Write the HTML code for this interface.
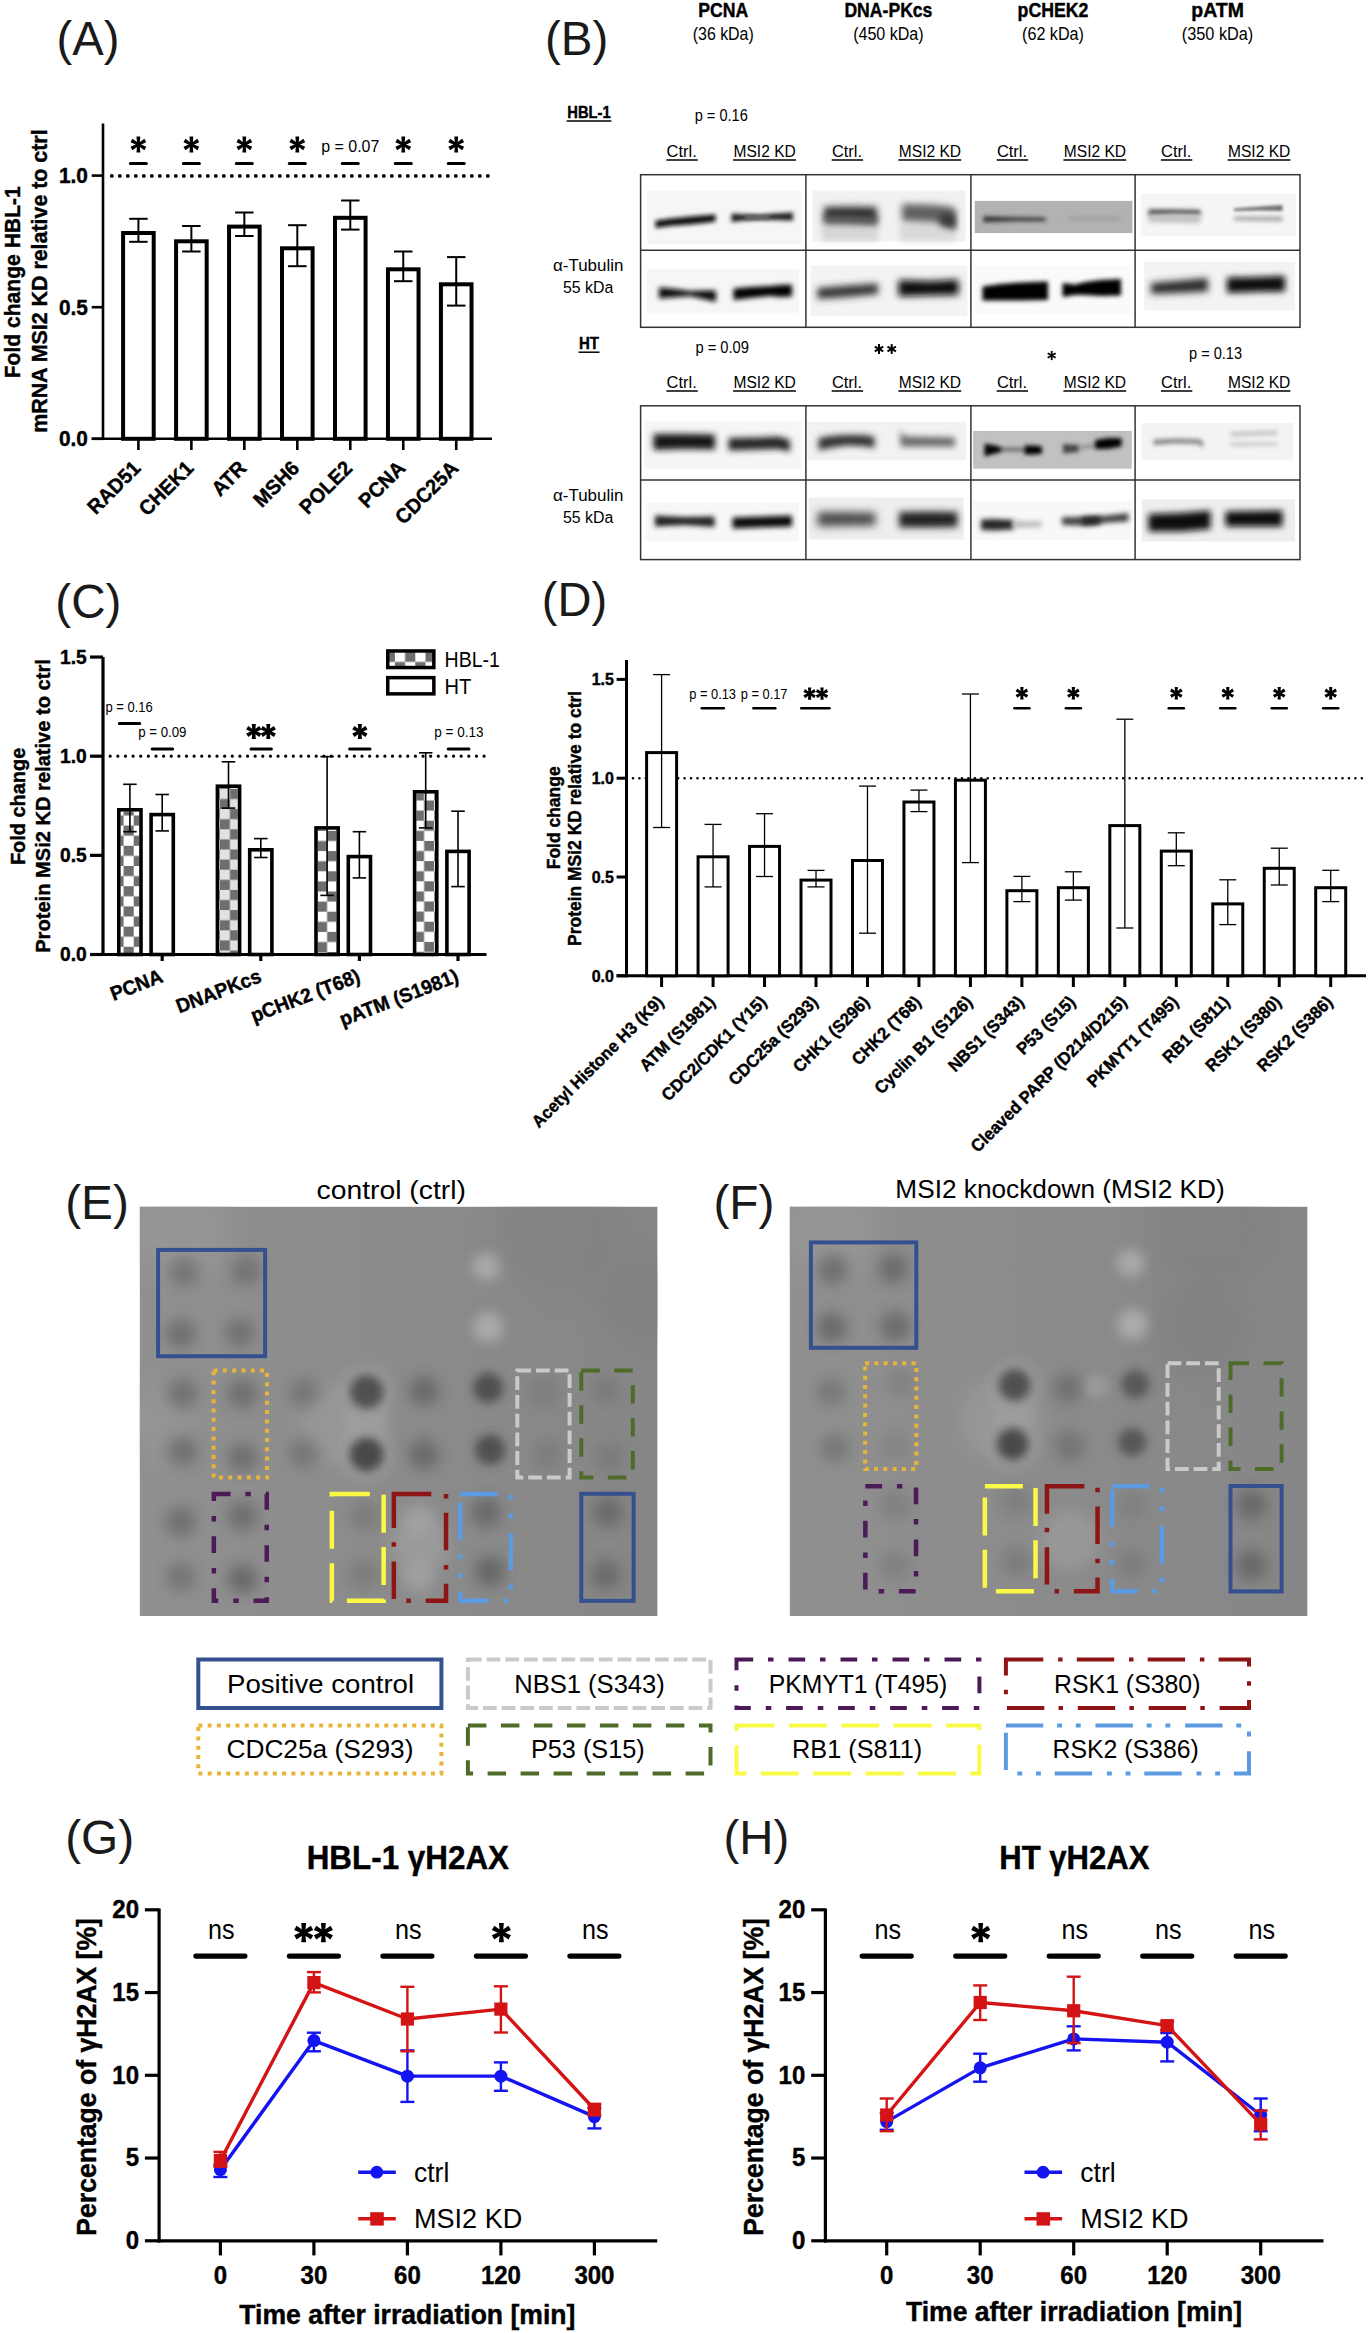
<!DOCTYPE html>
<html><head><meta charset="utf-8"><style>
html,body{margin:0;padding:0;background:#fff;overflow:hidden;}
svg{display:block;font-family:"Liberation Sans", sans-serif;}
</style></head><body>
<svg width="1371" height="2333" viewBox="0 0 1371 2333">
<defs>
<filter id="bl10" x="-30%" y="-200%" width="160%" height="500%"><feGaussianBlur stdDeviation="1.0"/></filter>
<filter id="bl12" x="-30%" y="-200%" width="160%" height="500%"><feGaussianBlur stdDeviation="1.2"/></filter>
<filter id="bl14" x="-30%" y="-200%" width="160%" height="500%"><feGaussianBlur stdDeviation="1.4"/></filter>
<filter id="bl16" x="-30%" y="-200%" width="160%" height="500%"><feGaussianBlur stdDeviation="1.6"/></filter>
<filter id="bl18" x="-30%" y="-200%" width="160%" height="500%"><feGaussianBlur stdDeviation="1.8"/></filter>
<filter id="bl20" x="-30%" y="-200%" width="160%" height="500%"><feGaussianBlur stdDeviation="2.0"/></filter>
<filter id="bl22" x="-30%" y="-200%" width="160%" height="500%"><feGaussianBlur stdDeviation="2.2"/></filter>
<filter id="bl24" x="-30%" y="-200%" width="160%" height="500%"><feGaussianBlur stdDeviation="2.4"/></filter>
<filter id="bl26" x="-30%" y="-200%" width="160%" height="500%"><feGaussianBlur stdDeviation="2.6"/></filter>
<filter id="bl28" x="-30%" y="-200%" width="160%" height="500%"><feGaussianBlur stdDeviation="2.8"/></filter>
<filter id="bl30" x="-30%" y="-200%" width="160%" height="500%"><feGaussianBlur stdDeviation="3.0"/></filter>
<filter id="bl32" x="-30%" y="-200%" width="160%" height="500%"><feGaussianBlur stdDeviation="3.2"/></filter>
<filter id="bl34" x="-30%" y="-200%" width="160%" height="500%"><feGaussianBlur stdDeviation="3.4"/></filter>
<filter id="bl36" x="-30%" y="-200%" width="160%" height="500%"><feGaussianBlur stdDeviation="3.6"/></filter>
<filter id="bl38" x="-30%" y="-200%" width="160%" height="500%"><feGaussianBlur stdDeviation="3.8"/></filter>
<filter id="bl40" x="-30%" y="-200%" width="160%" height="500%"><feGaussianBlur stdDeviation="4.0"/></filter>
<filter id="bl42" x="-30%" y="-200%" width="160%" height="500%"><feGaussianBlur stdDeviation="4.2"/></filter>
<filter id="bl44" x="-30%" y="-200%" width="160%" height="500%"><feGaussianBlur stdDeviation="4.4"/></filter>
<filter id="bl46" x="-30%" y="-200%" width="160%" height="500%"><feGaussianBlur stdDeviation="4.6"/></filter>
<filter id="bl48" x="-30%" y="-200%" width="160%" height="500%"><feGaussianBlur stdDeviation="4.8"/></filter>
<filter id="bl50" x="-30%" y="-200%" width="160%" height="500%"><feGaussianBlur stdDeviation="5.0"/></filter>
<filter id="db45" x="-100%" y="-100%" width="300%" height="300%"><feGaussianBlur stdDeviation="4.5"/></filter>
<filter id="db7" x="-100%" y="-100%" width="300%" height="300%"><feGaussianBlur stdDeviation="7"/></filter>
<filter id="db14" x="-100%" y="-100%" width="300%" height="300%"><feGaussianBlur stdDeviation="14"/></filter>
<filter id="db4" x="-100%" y="-100%" width="300%" height="300%"><feGaussianBlur stdDeviation="4"/></filter>
<filter id="db55" x="-100%" y="-100%" width="300%" height="300%"><feGaussianBlur stdDeviation="5.5"/></filter>
<filter id="db5" x="-100%" y="-100%" width="300%" height="300%"><feGaussianBlur stdDeviation="5"/></filter>
<filter id="db6" x="-100%" y="-100%" width="300%" height="300%"><feGaussianBlur stdDeviation="6"/></filter>
<filter id="db8" x="-100%" y="-100%" width="300%" height="300%"><feGaussianBlur stdDeviation="8"/></filter>
<filter id="db10" x="-100%" y="-100%" width="300%" height="300%"><feGaussianBlur stdDeviation="10"/></filter>
<filter id="db12" x="-100%" y="-100%" width="300%" height="300%"><feGaussianBlur stdDeviation="12"/></filter>
</defs>
<rect width="1371" height="2333" fill="#fff"/>
<text x="0.00" y="0.00" font-size="46" text-anchor="start" fill="#1a1a1a" textLength="62.90" lengthAdjust="spacingAndGlyphs" transform="translate(56.50,54.90) scale(1,1.04)">(A)</text>
<line x1="103.00" y1="123.50" x2="103.00" y2="440.10" stroke="#000" stroke-width="2.6" stroke-linecap="butt"/>
<line x1="91.70" y1="438.80" x2="492.00" y2="438.80" stroke="#000" stroke-width="2.6" stroke-linecap="butt"/>
<line x1="91.70" y1="175.60" x2="103.00" y2="175.60" stroke="#000" stroke-width="2.6" stroke-linecap="butt"/>
<text x="0.00" y="0.00" font-size="20.8" font-weight="bold" stroke="#000" stroke-width="0.4" text-anchor="end" fill="#000" transform="translate(87.80,183.10) scale(1,1.04)">1.0</text>
<line x1="91.70" y1="307.20" x2="103.00" y2="307.20" stroke="#000" stroke-width="2.6" stroke-linecap="butt"/>
<text x="0.00" y="0.00" font-size="20.8" font-weight="bold" stroke="#000" stroke-width="0.4" text-anchor="end" fill="#000" transform="translate(87.80,314.70) scale(1,1.04)">0.5</text>
<line x1="91.70" y1="438.80" x2="103.00" y2="438.80" stroke="#000" stroke-width="2.6" stroke-linecap="butt"/>
<text x="0.00" y="0.00" font-size="20.8" font-weight="bold" stroke="#000" stroke-width="0.4" text-anchor="end" fill="#000" transform="translate(87.80,446.30) scale(1,1.04)">0.0</text>
<path d="M111.80 175.90h0M119.80 175.90h0M127.80 175.90h0M135.80 175.90h0M143.80 175.90h0M151.80 175.90h0M159.80 175.90h0M167.80 175.90h0M175.80 175.90h0M183.80 175.90h0M191.80 175.90h0M199.80 175.90h0M207.80 175.90h0M215.80 175.90h0M223.80 175.90h0M231.80 175.90h0M239.80 175.90h0M247.80 175.90h0M255.80 175.90h0M263.80 175.90h0M271.80 175.90h0M279.80 175.90h0M287.80 175.90h0M295.80 175.90h0M303.80 175.90h0M311.80 175.90h0M319.80 175.90h0M327.80 175.90h0M335.80 175.90h0M343.80 175.90h0M351.80 175.90h0M359.80 175.90h0M367.80 175.90h0M375.80 175.90h0M383.80 175.90h0M391.80 175.90h0M399.80 175.90h0M407.80 175.90h0M415.80 175.90h0M423.80 175.90h0M431.80 175.90h0M439.80 175.90h0M447.80 175.90h0M455.80 175.90h0M463.80 175.90h0M471.80 175.90h0M479.80 175.90h0M487.80 175.90h0" stroke="#000" stroke-width="3.9" stroke-linecap="round"/>
<rect x="123.10" y="233.00" width="30.60" height="205.80" fill="#fff" stroke="#000" stroke-width="4"/>
<line x1="138.40" y1="218.80" x2="138.40" y2="241.80" stroke="#000" stroke-width="2" stroke-linecap="butt"/>
<line x1="129.15" y1="218.80" x2="147.65" y2="218.80" stroke="#000" stroke-width="2" stroke-linecap="butt"/>
<line x1="129.15" y1="241.80" x2="147.65" y2="241.80" stroke="#000" stroke-width="2" stroke-linecap="butt"/>
<line x1="138.40" y1="438.80" x2="138.40" y2="450.00" stroke="#000" stroke-width="2.6" stroke-linecap="butt"/>
<text x="0.00" y="0.00" font-size="19.8" font-weight="bold" stroke="#000" stroke-width="0.4" text-anchor="end" fill="#000" transform="translate(141.70,469.50) rotate(-45) scale(1,1.04)">RAD51</text>
<path d="M139.68 144.50L140.32 136.50L136.48 136.50L137.12 144.50ZM139.04 143.40L132.43 138.84L130.51 142.16L137.76 145.60ZM137.76 143.40L130.51 146.84L132.43 150.16L139.04 145.60ZM137.12 144.50L136.48 152.50L140.32 152.50L139.68 144.50ZM137.76 145.60L144.37 150.16L146.29 146.84L139.04 143.40ZM139.04 145.60L146.29 142.16L144.37 138.84L137.76 143.40Z" fill="#000"/>
<circle cx="138.40" cy="144.50" r="2.25" fill="#000"/>
<line x1="130.40" y1="163.50" x2="146.40" y2="163.50" stroke="#000" stroke-width="3" stroke-linecap="round"/>
<rect x="176.07" y="241.30" width="30.60" height="197.50" fill="#fff" stroke="#000" stroke-width="4"/>
<line x1="191.37" y1="226.00" x2="191.37" y2="251.50" stroke="#000" stroke-width="2" stroke-linecap="butt"/>
<line x1="182.12" y1="226.00" x2="200.62" y2="226.00" stroke="#000" stroke-width="2" stroke-linecap="butt"/>
<line x1="182.12" y1="251.50" x2="200.62" y2="251.50" stroke="#000" stroke-width="2" stroke-linecap="butt"/>
<line x1="191.37" y1="438.80" x2="191.37" y2="450.00" stroke="#000" stroke-width="2.6" stroke-linecap="butt"/>
<text x="0.00" y="0.00" font-size="19.8" font-weight="bold" stroke="#000" stroke-width="0.4" text-anchor="end" fill="#000" transform="translate(194.67,469.50) rotate(-45) scale(1,1.04)">CHEK1</text>
<path d="M192.65 144.50L193.29 136.50L189.45 136.50L190.09 144.50ZM192.01 143.40L185.40 138.84L183.48 142.16L190.73 145.60ZM190.73 143.40L183.48 146.84L185.40 150.16L192.01 145.60ZM190.09 144.50L189.45 152.50L193.29 152.50L192.65 144.50ZM190.73 145.60L197.34 150.16L199.26 146.84L192.01 143.40ZM192.01 145.60L199.26 142.16L197.34 138.84L190.73 143.40Z" fill="#000"/>
<circle cx="191.37" cy="144.50" r="2.25" fill="#000"/>
<line x1="183.37" y1="163.50" x2="199.37" y2="163.50" stroke="#000" stroke-width="3" stroke-linecap="round"/>
<rect x="229.04" y="226.60" width="30.60" height="212.20" fill="#fff" stroke="#000" stroke-width="4"/>
<line x1="244.34" y1="212.50" x2="244.34" y2="236.00" stroke="#000" stroke-width="2" stroke-linecap="butt"/>
<line x1="235.09" y1="212.50" x2="253.59" y2="212.50" stroke="#000" stroke-width="2" stroke-linecap="butt"/>
<line x1="235.09" y1="236.00" x2="253.59" y2="236.00" stroke="#000" stroke-width="2" stroke-linecap="butt"/>
<line x1="244.34" y1="438.80" x2="244.34" y2="450.00" stroke="#000" stroke-width="2.6" stroke-linecap="butt"/>
<text x="0.00" y="0.00" font-size="19.8" font-weight="bold" stroke="#000" stroke-width="0.4" text-anchor="end" fill="#000" transform="translate(247.64,469.50) rotate(-45) scale(1,1.04)">ATR</text>
<path d="M245.62 144.50L246.26 136.50L242.42 136.50L243.06 144.50ZM244.98 143.40L238.37 138.84L236.45 142.16L243.70 145.60ZM243.70 143.40L236.45 146.84L238.37 150.16L244.98 145.60ZM243.06 144.50L242.42 152.50L246.26 152.50L245.62 144.50ZM243.70 145.60L250.31 150.16L252.23 146.84L244.98 143.40ZM244.98 145.60L252.23 142.16L250.31 138.84L243.70 143.40Z" fill="#000"/>
<circle cx="244.34" cy="144.50" r="2.25" fill="#000"/>
<line x1="236.34" y1="163.50" x2="252.34" y2="163.50" stroke="#000" stroke-width="3" stroke-linecap="round"/>
<rect x="282.01" y="248.30" width="30.60" height="190.50" fill="#fff" stroke="#000" stroke-width="4"/>
<line x1="297.31" y1="225.20" x2="297.31" y2="266.20" stroke="#000" stroke-width="2" stroke-linecap="butt"/>
<line x1="288.06" y1="225.20" x2="306.56" y2="225.20" stroke="#000" stroke-width="2" stroke-linecap="butt"/>
<line x1="288.06" y1="266.20" x2="306.56" y2="266.20" stroke="#000" stroke-width="2" stroke-linecap="butt"/>
<line x1="297.31" y1="438.80" x2="297.31" y2="450.00" stroke="#000" stroke-width="2.6" stroke-linecap="butt"/>
<text x="0.00" y="0.00" font-size="19.8" font-weight="bold" stroke="#000" stroke-width="0.4" text-anchor="end" fill="#000" transform="translate(300.61,469.50) rotate(-45) scale(1,1.04)">MSH6</text>
<path d="M298.58 144.50L299.23 136.50L295.39 136.50L296.04 144.50ZM297.95 143.40L291.34 138.84L289.42 142.16L296.67 145.60ZM296.67 143.40L289.42 146.84L291.34 150.16L297.95 145.60ZM296.04 144.50L295.39 152.50L299.23 152.50L298.58 144.50ZM296.67 145.60L303.28 150.16L305.20 146.84L297.95 143.40ZM297.95 145.60L305.20 142.16L303.28 138.84L296.67 143.40Z" fill="#000"/>
<circle cx="297.31" cy="144.50" r="2.25" fill="#000"/>
<line x1="289.31" y1="163.50" x2="305.31" y2="163.50" stroke="#000" stroke-width="3" stroke-linecap="round"/>
<rect x="334.98" y="217.80" width="30.60" height="221.00" fill="#fff" stroke="#000" stroke-width="4"/>
<line x1="350.28" y1="200.50" x2="350.28" y2="229.60" stroke="#000" stroke-width="2" stroke-linecap="butt"/>
<line x1="341.03" y1="200.50" x2="359.53" y2="200.50" stroke="#000" stroke-width="2" stroke-linecap="butt"/>
<line x1="341.03" y1="229.60" x2="359.53" y2="229.60" stroke="#000" stroke-width="2" stroke-linecap="butt"/>
<line x1="350.28" y1="438.80" x2="350.28" y2="450.00" stroke="#000" stroke-width="2.6" stroke-linecap="butt"/>
<text x="0.00" y="0.00" font-size="19.8" font-weight="bold" stroke="#000" stroke-width="0.4" text-anchor="end" fill="#000" transform="translate(353.58,469.50) rotate(-45) scale(1,1.04)">POLE2</text>
<text x="0.00" y="0.00" font-size="16" text-anchor="middle" fill="#000" transform="translate(350.28,152.00) scale(1,1.04)">p = 0.07</text>
<line x1="342.28" y1="163.50" x2="358.28" y2="163.50" stroke="#000" stroke-width="3" stroke-linecap="round"/>
<rect x="387.95" y="269.30" width="30.60" height="169.50" fill="#fff" stroke="#000" stroke-width="4"/>
<line x1="403.25" y1="251.50" x2="403.25" y2="281.20" stroke="#000" stroke-width="2" stroke-linecap="butt"/>
<line x1="394.00" y1="251.50" x2="412.50" y2="251.50" stroke="#000" stroke-width="2" stroke-linecap="butt"/>
<line x1="394.00" y1="281.20" x2="412.50" y2="281.20" stroke="#000" stroke-width="2" stroke-linecap="butt"/>
<line x1="403.25" y1="438.80" x2="403.25" y2="450.00" stroke="#000" stroke-width="2.6" stroke-linecap="butt"/>
<text x="0.00" y="0.00" font-size="19.8" font-weight="bold" stroke="#000" stroke-width="0.4" text-anchor="end" fill="#000" transform="translate(406.55,469.50) rotate(-45) scale(1,1.04)">PCNA</text>
<path d="M404.52 144.50L405.17 136.50L401.33 136.50L401.98 144.50ZM403.89 143.40L397.28 138.84L395.36 142.16L402.61 145.60ZM402.61 143.40L395.36 146.84L397.28 150.16L403.89 145.60ZM401.98 144.50L401.33 152.50L405.17 152.50L404.52 144.50ZM402.61 145.60L409.22 150.16L411.14 146.84L403.89 143.40ZM403.89 145.60L411.14 142.16L409.22 138.84L402.61 143.40Z" fill="#000"/>
<circle cx="403.25" cy="144.50" r="2.25" fill="#000"/>
<line x1="395.25" y1="163.50" x2="411.25" y2="163.50" stroke="#000" stroke-width="3" stroke-linecap="round"/>
<rect x="440.92" y="284.30" width="30.60" height="154.50" fill="#fff" stroke="#000" stroke-width="4"/>
<line x1="456.22" y1="257.10" x2="456.22" y2="305.60" stroke="#000" stroke-width="2" stroke-linecap="butt"/>
<line x1="446.97" y1="257.10" x2="465.47" y2="257.10" stroke="#000" stroke-width="2" stroke-linecap="butt"/>
<line x1="446.97" y1="305.60" x2="465.47" y2="305.60" stroke="#000" stroke-width="2" stroke-linecap="butt"/>
<line x1="456.22" y1="438.80" x2="456.22" y2="450.00" stroke="#000" stroke-width="2.6" stroke-linecap="butt"/>
<text x="0.00" y="0.00" font-size="19.8" font-weight="bold" stroke="#000" stroke-width="0.4" text-anchor="end" fill="#000" transform="translate(459.52,469.50) rotate(-45) scale(1,1.04)">CDC25A</text>
<path d="M457.50 144.50L458.14 136.50L454.30 136.50L454.95 144.50ZM456.86 143.40L450.25 138.84L448.33 142.16L455.58 145.60ZM455.58 143.40L448.33 146.84L450.25 150.16L456.86 145.60ZM454.95 144.50L454.30 152.50L458.14 152.50L457.50 144.50ZM455.58 145.60L462.19 150.16L464.11 146.84L456.86 143.40ZM456.86 145.60L464.11 142.16L462.19 138.84L455.58 143.40Z" fill="#000"/>
<circle cx="456.22" cy="144.50" r="2.25" fill="#000"/>
<line x1="448.22" y1="163.50" x2="464.22" y2="163.50" stroke="#000" stroke-width="3" stroke-linecap="round"/>
<text x="0.00" y="0.00" font-size="21.3" font-weight="bold" stroke="#000" stroke-width="0.4" text-anchor="middle" fill="#000" textLength="192.00" lengthAdjust="spacingAndGlyphs" transform="translate(19.50,282.30) rotate(-90) scale(1,1.04)">Fold change HBL-1</text>
<text x="0.00" y="0.00" font-size="21.3" font-weight="bold" stroke="#000" stroke-width="0.4" text-anchor="middle" fill="#000" textLength="303.40" lengthAdjust="spacingAndGlyphs" transform="translate(47.20,281.10) rotate(-90) scale(1,1.04)">mRNA MSI2 KD relative to ctrl</text>
<text x="0.00" y="0.00" font-size="46" text-anchor="start" fill="#1a1a1a" textLength="63.30" lengthAdjust="spacingAndGlyphs" transform="translate(545.00,54.90) scale(1,1.04)">(B)</text>
<text x="0.00" y="0.00" font-size="20" font-weight="bold" stroke="#000" stroke-width="0.4" text-anchor="middle" fill="#000" textLength="50.00" lengthAdjust="spacingAndGlyphs" transform="translate(723.25,17.40) scale(1,1.04)">PCNA</text>
<text x="0.00" y="0.00" font-size="17" text-anchor="middle" fill="#000" textLength="61.00" lengthAdjust="spacingAndGlyphs" transform="translate(723.25,39.80) scale(1,1.04)">(36 kDa)</text>
<text x="0.00" y="0.00" font-size="20" font-weight="bold" stroke="#000" stroke-width="0.4" text-anchor="middle" fill="#000" textLength="88.00" lengthAdjust="spacingAndGlyphs" transform="translate(888.40,17.40) scale(1,1.04)">DNA-PKcs</text>
<text x="0.00" y="0.00" font-size="17" text-anchor="middle" fill="#000" textLength="70.50" lengthAdjust="spacingAndGlyphs" transform="translate(888.40,39.80) scale(1,1.04)">(450 kDa)</text>
<text x="0.00" y="0.00" font-size="20" font-weight="bold" stroke="#000" stroke-width="0.4" text-anchor="middle" fill="#000" textLength="70.80" lengthAdjust="spacingAndGlyphs" transform="translate(1053.00,17.40) scale(1,1.04)">pCHEK2</text>
<text x="0.00" y="0.00" font-size="17" text-anchor="middle" fill="#000" textLength="62.00" lengthAdjust="spacingAndGlyphs" transform="translate(1053.00,39.80) scale(1,1.04)">(62 kDa)</text>
<text x="0.00" y="0.00" font-size="20" font-weight="bold" stroke="#000" stroke-width="0.4" text-anchor="middle" fill="#000" textLength="52.50" lengthAdjust="spacingAndGlyphs" transform="translate(1217.55,17.40) scale(1,1.04)">pATM</text>
<text x="0.00" y="0.00" font-size="17" text-anchor="middle" fill="#000" textLength="71.40" lengthAdjust="spacingAndGlyphs" transform="translate(1217.55,39.80) scale(1,1.04)">(350 kDa)</text>
<text x="0.00" y="0.00" font-size="16" font-weight="bold" stroke="#000" stroke-width="0.4" text-anchor="start" fill="#000" textLength="43.40" lengthAdjust="spacingAndGlyphs" transform="translate(567.30,117.90) scale(1,1.04)">HBL-1</text>
<line x1="566.60" y1="121.00" x2="611.40" y2="121.00" stroke="#000" stroke-width="1.5" stroke-linecap="butt"/>
<text x="0.00" y="0.00" font-size="16" font-weight="bold" stroke="#000" stroke-width="0.4" text-anchor="start" fill="#000" textLength="20.00" lengthAdjust="spacingAndGlyphs" transform="translate(579.00,349.00) scale(1,1.04)">HT</text>
<line x1="578.50" y1="352.20" x2="599.50" y2="352.20" stroke="#000" stroke-width="1.5" stroke-linecap="butt"/>
<text x="0.00" y="0.00" font-size="15" text-anchor="start" fill="#000" textLength="53.10" lengthAdjust="spacingAndGlyphs" transform="translate(694.70,121.20) scale(1,1.04)">p = 0.16</text>
<text x="0.00" y="0.00" font-size="15" text-anchor="start" fill="#000" textLength="53.50" lengthAdjust="spacingAndGlyphs" transform="translate(695.40,353.30) scale(1,1.04)">p = 0.09</text>
<text x="0.00" y="0.00" font-size="15" text-anchor="start" fill="#000" textLength="53.00" lengthAdjust="spacingAndGlyphs" transform="translate(1189.00,359.00) scale(1,1.04)">p = 0.13</text>
<line x1="879.00" y1="344.10" x2="879.00" y2="353.90" stroke="#000" stroke-width="2.0" stroke-linecap="butt"/>
<line x1="874.76" y1="346.55" x2="883.24" y2="351.45" stroke="#000" stroke-width="2.0" stroke-linecap="butt"/>
<line x1="883.24" y1="346.55" x2="874.76" y2="351.45" stroke="#000" stroke-width="2.0" stroke-linecap="butt"/>
<line x1="891.70" y1="344.10" x2="891.70" y2="353.90" stroke="#000" stroke-width="2.0" stroke-linecap="butt"/>
<line x1="887.46" y1="346.55" x2="895.94" y2="351.45" stroke="#000" stroke-width="2.0" stroke-linecap="butt"/>
<line x1="895.94" y1="346.55" x2="887.46" y2="351.45" stroke="#000" stroke-width="2.0" stroke-linecap="butt"/>
<line x1="1051.70" y1="350.90" x2="1051.70" y2="360.10" stroke="#000" stroke-width="1.8" stroke-linecap="butt"/>
<line x1="1047.72" y1="353.20" x2="1055.68" y2="357.80" stroke="#000" stroke-width="1.8" stroke-linecap="butt"/>
<line x1="1055.68" y1="353.20" x2="1047.72" y2="357.80" stroke="#000" stroke-width="1.8" stroke-linecap="butt"/>
<text x="0.00" y="0.00" font-size="16" text-anchor="start" fill="#000" textLength="30.20" lengthAdjust="spacingAndGlyphs" transform="translate(666.60,156.70) scale(1,1.04)">Ctrl.</text>
<line x1="666.40" y1="160.00" x2="697.80" y2="160.00" stroke="#000" stroke-width="1.5" stroke-linecap="butt"/>
<text x="0.00" y="0.00" font-size="16" text-anchor="start" fill="#000" textLength="62.30" lengthAdjust="spacingAndGlyphs" transform="translate(733.50,156.70) scale(1,1.04)">MSI2 KD</text>
<line x1="733.10" y1="160.00" x2="795.90" y2="160.00" stroke="#000" stroke-width="1.5" stroke-linecap="butt"/>
<text x="0.00" y="0.00" font-size="16" text-anchor="start" fill="#000" textLength="30.20" lengthAdjust="spacingAndGlyphs" transform="translate(831.90,156.70) scale(1,1.04)">Ctrl.</text>
<line x1="831.70" y1="160.00" x2="863.10" y2="160.00" stroke="#000" stroke-width="1.5" stroke-linecap="butt"/>
<text x="0.00" y="0.00" font-size="16" text-anchor="start" fill="#000" textLength="62.30" lengthAdjust="spacingAndGlyphs" transform="translate(898.80,156.70) scale(1,1.04)">MSI2 KD</text>
<line x1="898.40" y1="160.00" x2="961.20" y2="160.00" stroke="#000" stroke-width="1.5" stroke-linecap="butt"/>
<text x="0.00" y="0.00" font-size="16" text-anchor="start" fill="#000" textLength="30.20" lengthAdjust="spacingAndGlyphs" transform="translate(996.90,156.70) scale(1,1.04)">Ctrl.</text>
<line x1="996.70" y1="160.00" x2="1028.10" y2="160.00" stroke="#000" stroke-width="1.5" stroke-linecap="butt"/>
<text x="0.00" y="0.00" font-size="16" text-anchor="start" fill="#000" textLength="62.30" lengthAdjust="spacingAndGlyphs" transform="translate(1063.80,156.70) scale(1,1.04)">MSI2 KD</text>
<line x1="1063.40" y1="160.00" x2="1126.20" y2="160.00" stroke="#000" stroke-width="1.5" stroke-linecap="butt"/>
<text x="0.00" y="0.00" font-size="16" text-anchor="start" fill="#000" textLength="30.20" lengthAdjust="spacingAndGlyphs" transform="translate(1161.10,156.70) scale(1,1.04)">Ctrl.</text>
<line x1="1160.90" y1="160.00" x2="1192.30" y2="160.00" stroke="#000" stroke-width="1.5" stroke-linecap="butt"/>
<text x="0.00" y="0.00" font-size="16" text-anchor="start" fill="#000" textLength="62.30" lengthAdjust="spacingAndGlyphs" transform="translate(1228.00,156.70) scale(1,1.04)">MSI2 KD</text>
<line x1="1227.60" y1="160.00" x2="1290.40" y2="160.00" stroke="#000" stroke-width="1.5" stroke-linecap="butt"/>
<text x="0.00" y="0.00" font-size="16" text-anchor="start" fill="#000" textLength="30.20" lengthAdjust="spacingAndGlyphs" transform="translate(666.60,388.00) scale(1,1.04)">Ctrl.</text>
<line x1="666.40" y1="391.00" x2="697.80" y2="391.00" stroke="#000" stroke-width="1.5" stroke-linecap="butt"/>
<text x="0.00" y="0.00" font-size="16" text-anchor="start" fill="#000" textLength="62.30" lengthAdjust="spacingAndGlyphs" transform="translate(733.50,388.00) scale(1,1.04)">MSI2 KD</text>
<line x1="733.10" y1="391.00" x2="795.90" y2="391.00" stroke="#000" stroke-width="1.5" stroke-linecap="butt"/>
<text x="0.00" y="0.00" font-size="16" text-anchor="start" fill="#000" textLength="30.20" lengthAdjust="spacingAndGlyphs" transform="translate(831.90,388.00) scale(1,1.04)">Ctrl.</text>
<line x1="831.70" y1="391.00" x2="863.10" y2="391.00" stroke="#000" stroke-width="1.5" stroke-linecap="butt"/>
<text x="0.00" y="0.00" font-size="16" text-anchor="start" fill="#000" textLength="62.30" lengthAdjust="spacingAndGlyphs" transform="translate(898.80,388.00) scale(1,1.04)">MSI2 KD</text>
<line x1="898.40" y1="391.00" x2="961.20" y2="391.00" stroke="#000" stroke-width="1.5" stroke-linecap="butt"/>
<text x="0.00" y="0.00" font-size="16" text-anchor="start" fill="#000" textLength="30.20" lengthAdjust="spacingAndGlyphs" transform="translate(996.90,388.00) scale(1,1.04)">Ctrl.</text>
<line x1="996.70" y1="391.00" x2="1028.10" y2="391.00" stroke="#000" stroke-width="1.5" stroke-linecap="butt"/>
<text x="0.00" y="0.00" font-size="16" text-anchor="start" fill="#000" textLength="62.30" lengthAdjust="spacingAndGlyphs" transform="translate(1063.80,388.00) scale(1,1.04)">MSI2 KD</text>
<line x1="1063.40" y1="391.00" x2="1126.20" y2="391.00" stroke="#000" stroke-width="1.5" stroke-linecap="butt"/>
<text x="0.00" y="0.00" font-size="16" text-anchor="start" fill="#000" textLength="30.20" lengthAdjust="spacingAndGlyphs" transform="translate(1161.10,388.00) scale(1,1.04)">Ctrl.</text>
<line x1="1160.90" y1="391.00" x2="1192.30" y2="391.00" stroke="#000" stroke-width="1.5" stroke-linecap="butt"/>
<text x="0.00" y="0.00" font-size="16" text-anchor="start" fill="#000" textLength="62.30" lengthAdjust="spacingAndGlyphs" transform="translate(1228.00,388.00) scale(1,1.04)">MSI2 KD</text>
<line x1="1227.60" y1="391.00" x2="1290.40" y2="391.00" stroke="#000" stroke-width="1.5" stroke-linecap="butt"/>
<text x="0.00" y="0.00" font-size="16" text-anchor="start" fill="#000" textLength="70.40" lengthAdjust="spacingAndGlyphs" transform="translate(553.00,270.90) scale(1,1.04)">α-Tubulin</text>
<text x="0.00" y="0.00" font-size="16" text-anchor="start" fill="#000" textLength="50.30" lengthAdjust="spacingAndGlyphs" transform="translate(563.00,292.70) scale(1,1.04)">55 kDa</text>
<text x="0.00" y="0.00" font-size="16" text-anchor="start" fill="#000" textLength="70.40" lengthAdjust="spacingAndGlyphs" transform="translate(553.00,501.40) scale(1,1.04)">α-Tubulin</text>
<text x="0.00" y="0.00" font-size="16" text-anchor="start" fill="#000" textLength="50.30" lengthAdjust="spacingAndGlyphs" transform="translate(563.00,523.20) scale(1,1.04)">55 kDa</text>
<rect x="647.30" y="190.60" width="153.80" height="53.70" fill="#f6f6f6" stroke="none" stroke-width="0"/>
<polygon points="655.5,220.5 670.0,218.5 690.0,216.5 705.0,215.2 715.5,214.5 715.5,221.5 705.0,223.0 690.0,224.5 670.0,226.0 655.5,228.0" fill="#0d0d0d" opacity="1.0" filter="url(#bl22)"/>
<polygon points="731.5,213.5 745.0,214.5 760.0,215.0 775.0,213.5 793.0,212.5 793.0,220.5 775.0,220.0 760.0,219.5 745.0,220.5 731.5,222.0" fill="#1a1a1a" opacity="1.0" filter="url(#bl22)"/>
<polygon points="745.0,215.0 770.0,215.5 770.0,219.5 745.0,220.0" fill="#666" opacity="1.0" filter="url(#bl16)"/>
<rect x="647.00" y="268.80" width="152.00" height="43.80" fill="#f6f6f6" stroke="none" stroke-width="0"/>
<polygon points="659.0,287.5 672.0,288.5 690.0,291.0 703.0,290.5 716.0,290.5 716.0,302.0 703.0,299.0 690.0,296.0 672.0,297.5 659.0,298.5" fill="#0d0d0d" opacity="1.0" filter="url(#bl26)"/>
<polygon points="733.5,288.5 750.0,287.0 770.0,286.0 780.0,285.0 792.0,284.5 792.0,296.5 780.0,297.0 770.0,296.0 750.0,298.0 733.5,300.0" fill="#050505" opacity="1.0" filter="url(#bl26)"/>
<rect x="812.40" y="190.60" width="153.20" height="50.80" fill="#f1f1f1" stroke="none" stroke-width="0"/>
<rect x="822.00" y="222.00" width="56.00" height="19.00" fill="#d6d6d6" stroke="none" stroke-width="0" filter="url(#bl30)"/>
<rect x="900.00" y="224.00" width="56.00" height="17.00" fill="#d9d9d9" stroke="none" stroke-width="0" filter="url(#bl30)"/>
<polygon points="824.0,207.0 850.0,206.5 877.0,207.0 877.0,223.0 850.0,221.0 824.0,221.0" fill="#2e2e2e" opacity="1.0" filter="url(#bl36)"/>
<polygon points="824.0,216.0 877.0,217.0 877.0,224.0 824.0,223.0" fill="#555" opacity="1.0" filter="url(#bl32)"/>
<polygon points="902.0,204.0 930.0,204.5 946.0,206.0 955.5,208.0 955.5,228.5 946.0,224.5 930.0,222.0 902.0,221.0" fill="#606060" opacity="1.0" filter="url(#bl38)"/>
<polygon points="940.0,214.0 955.0,214.0 955.0,229.0 940.0,225.0" fill="#3a3a3a" opacity="1.0" filter="url(#bl32)"/>
<rect x="810.60" y="265.60" width="156.80" height="50.80" fill="#f3f3f3" stroke="none" stroke-width="0"/>
<polygon points="817.5,288.0 848.0,285.5 878.0,283.5 878.0,294.0 848.0,297.0 817.5,299.0" fill="#333" opacity="1.0" filter="url(#bl38)"/>
<polygon points="898.5,280.0 930.0,281.0 958.5,279.5 958.5,295.0 930.0,295.5 898.5,296.5" fill="#0d0d0d" opacity="1.0" filter="url(#bl36)"/>
<rect x="974.70" y="200.90" width="157.70" height="32.20" fill="#b2b2b2" stroke="none" stroke-width="0"/>
<polygon points="983.5,216.5 1000.0,217.0 1018.0,217.5 1030.0,217.5 1045.5,218.0 1045.5,221.0 1030.0,221.0 1018.0,221.0 1000.0,221.5 983.5,222.0" fill="#262626" opacity="1.0" filter="url(#bl20)"/>
<polygon points="1068.0,217.5 1120.0,216.5 1120.0,219.5 1068.0,220.0" fill="#999" opacity="1.0" filter="url(#bl20)"/>
<rect x="974.00" y="265.60" width="158.00" height="48.40" fill="#fafafa" stroke="none" stroke-width="0"/>
<polygon points="982.5,286.5 1000.0,284.0 1020.0,282.5 1048.0,281.5 1048.0,300.0 1020.0,300.5 1000.0,300.5 982.5,300.5" fill="#000" opacity="1.0" filter="url(#bl22)"/>
<polygon points="1062.5,283.0 1075.0,284.5 1085.0,282.0 1100.0,280.0 1121.0,279.0 1121.0,295.5 1100.0,296.0 1085.0,295.0 1075.0,295.0 1062.5,297.0" fill="#000" opacity="1.0" filter="url(#bl22)"/>
<rect x="1140.60" y="193.70" width="155.60" height="42.80" fill="#f5f5f5" stroke="none" stroke-width="0"/>
<polygon points="1148.5,209.5 1175.0,209.5 1200.5,210.0 1200.5,215.0 1175.0,214.5 1148.5,215.5" fill="#4a4a4a" opacity="1.0" filter="url(#bl20)"/>
<polygon points="1148.5,215.0 1200.5,215.0 1200.5,223.0 1148.5,222.0" fill="#bdbdbd" opacity="1.0" filter="url(#bl26)"/>
<polygon points="1234.0,208.5 1260.0,206.5 1282.5,205.0 1282.5,211.0 1260.0,210.5 1234.0,211.0" fill="#707070" opacity="1.0" filter="url(#bl16)"/>
<polygon points="1234.0,216.5 1282.5,216.5 1282.5,221.5 1234.0,220.5" fill="#a8a8a8" opacity="1.0" filter="url(#bl20)"/>
<rect x="1144.30" y="261.90" width="150.70" height="48.30" fill="#f3f3f3" stroke="none" stroke-width="0"/>
<polygon points="1151.0,283.0 1180.0,280.5 1208.0,278.0 1208.0,291.5 1180.0,293.0 1151.0,294.0" fill="#2a2a2a" opacity="1.0" filter="url(#bl36)"/>
<polygon points="1227.0,277.5 1255.0,277.0 1285.0,276.0 1285.0,291.5 1255.0,292.0 1227.0,293.0" fill="#080808" opacity="1.0" filter="url(#bl32)"/>
<rect x="644.30" y="421.20" width="156.90" height="47.70" fill="#f6f6f6" stroke="none" stroke-width="0"/>
<polygon points="653.5,434.0 685.0,434.0 715.0,434.5 715.0,449.5 685.0,449.0 653.5,450.0" fill="#141414" opacity="1.0" filter="url(#bl32)"/>
<polygon points="728.5,438.0 760.0,437.5 778.0,436.5 790.0,440.0 790.0,451.5 778.0,449.0 760.0,449.5 728.5,450.5" fill="#222" opacity="1.0" filter="url(#bl32)"/>
<rect x="646.20" y="503.00" width="152.50" height="37.90" fill="#f7f7f7" stroke="none" stroke-width="0"/>
<polygon points="655.0,515.5 685.0,517.0 714.5,516.5 714.5,527.0 685.0,525.0 655.0,526.5" fill="#222" opacity="1.0" filter="url(#bl26)"/>
<polygon points="732.5,517.5 760.0,516.5 792.0,515.5 792.0,526.5 760.0,527.5 732.5,528.5" fill="#111" opacity="1.0" filter="url(#bl26)"/>
<rect x="807.50" y="421.80" width="158.70" height="38.50" fill="#f2f2f2" stroke="none" stroke-width="0"/>
<polygon points="818.5,438.0 830.0,436.0 846.0,434.8 862.0,435.0 874.5,436.5 874.5,448.0 862.0,446.0 846.0,445.5 830.0,448.0 818.5,450.5" fill="#333" opacity="1.0" filter="url(#bl32)"/>
<polygon points="900.5,430.0 905.0,436.5 930.0,437.0 955.0,437.5 955.0,446.5 930.0,446.5 905.0,446.5 900.5,447.0" fill="#666" opacity="1.0" filter="url(#bl32)"/>
<rect x="808.70" y="497.50" width="155.00" height="42.10" fill="#eeeeee" stroke="none" stroke-width="0"/>
<polygon points="817.5,512.0 846.0,512.0 875.5,512.5 875.5,525.5 846.0,526.0 817.5,526.5" fill="#4a4a4a" opacity="1.0" filter="url(#bl42)"/>
<polygon points="899.0,512.0 930.0,511.5 957.5,512.0 957.5,527.0 930.0,527.5 899.0,527.5" fill="#222" opacity="1.0" filter="url(#bl38)"/>
<rect x="973.10" y="430.90" width="158.70" height="37.80" fill="#c1c1c1" stroke="none" stroke-width="0"/>
<polygon points="984.5,443.5 995.0,445.5 1002.0,447.5 1002.0,451.5 995.0,453.5 984.5,456.5" fill="#000" opacity="1.0" filter="url(#bl22)"/>
<polygon points="1002.0,448.0 1025.0,448.0 1025.0,451.0 1002.0,451.0" fill="#555" opacity="1.0" filter="url(#bl20)"/>
<polygon points="1024.5,445.5 1034.0,445.5 1042.0,446.5 1042.0,453.5 1034.0,454.5 1024.5,454.5" fill="#000" opacity="1.0" filter="url(#bl22)"/>
<polygon points="1063.0,444.0 1079.0,445.0 1079.0,452.0 1063.0,453.5" fill="#444" opacity="1.0" filter="url(#bl22)"/>
<polygon points="1079.0,446.0 1095.0,444.0 1095.0,447.5 1079.0,449.0" fill="#888" opacity="1.0" filter="url(#bl20)"/>
<polygon points="1095.0,440.0 1108.0,438.0 1121.5,438.0 1121.5,446.5 1108.0,449.0 1095.0,449.0" fill="#000" opacity="1.0" filter="url(#bl22)"/>
<rect x="973.00" y="501.80" width="159.00" height="38.40" fill="#f8f8f8" stroke="none" stroke-width="0"/>
<polygon points="981.0,519.5 995.0,519.0 1013.5,520.0 1013.5,529.5 995.0,530.5 981.0,530.0" fill="#262626" opacity="1.0" filter="url(#bl26)"/>
<polygon points="1013.0,521.0 1042.0,521.5 1042.0,527.0 1013.0,528.0" fill="#bbb" opacity="1.0" filter="url(#bl28)"/>
<polygon points="1062.0,517.0 1075.0,517.0 1090.0,516.5 1105.0,515.5 1128.5,513.0 1128.5,521.5 1105.0,523.0 1090.0,525.5 1075.0,525.5 1062.0,525.0" fill="#444" opacity="1.0" filter="url(#bl26)"/>
<polygon points="1082.0,517.0 1100.0,516.5 1100.0,524.0 1082.0,525.0" fill="#262626" opacity="1.0" filter="url(#bl26)"/>
<rect x="1141.80" y="423.10" width="151.30" height="36.50" fill="#f3f3f3" stroke="none" stroke-width="0"/>
<polygon points="1153.5,439.5 1175.0,438.5 1198.0,439.0 1203.0,441.0 1203.0,448.0 1198.0,444.0 1175.0,443.5 1153.5,445.0" fill="#888" opacity="1.0" filter="url(#bl20)"/>
<polygon points="1230.5,432.0 1277.5,430.5 1277.5,435.0 1230.5,436.5" fill="#c4c4c4" opacity="1.0" filter="url(#bl20)"/>
<polygon points="1230.5,442.0 1277.5,442.0 1277.5,446.0 1230.5,446.5" fill="#cdcdcd" opacity="1.0" filter="url(#bl20)"/>
<rect x="1141.80" y="499.30" width="153.20" height="42.20" fill="#eeeeee" stroke="none" stroke-width="0"/>
<polygon points="1148.5,514.0 1180.0,513.0 1210.5,510.5 1210.5,529.0 1180.0,531.5 1148.5,531.5" fill="#111" opacity="1.0" filter="url(#bl32)"/>
<polygon points="1225.5,511.5 1255.0,511.0 1282.5,510.5 1282.5,526.5 1255.0,526.5 1225.5,526.5" fill="#0d0d0d" opacity="1.0" filter="url(#bl32)"/>
<rect x="640.60" y="174.70" width="659.40" height="152.60" fill="none" stroke="#333" stroke-width="1.5"/>
<line x1="640.60" y1="250.20" x2="1300.00" y2="250.20" stroke="#333" stroke-width="1.5" stroke-linecap="butt"/>
<line x1="805.90" y1="174.70" x2="805.90" y2="327.30" stroke="#333" stroke-width="1.5" stroke-linecap="butt"/>
<line x1="970.90" y1="174.70" x2="970.90" y2="327.30" stroke="#333" stroke-width="1.5" stroke-linecap="butt"/>
<line x1="1135.10" y1="174.70" x2="1135.10" y2="327.30" stroke="#333" stroke-width="1.5" stroke-linecap="butt"/>
<rect x="640.60" y="405.80" width="659.40" height="153.80" fill="none" stroke="#333" stroke-width="1.5"/>
<line x1="640.60" y1="479.90" x2="1300.00" y2="479.90" stroke="#333" stroke-width="1.5" stroke-linecap="butt"/>
<line x1="805.90" y1="405.80" x2="805.90" y2="559.60" stroke="#333" stroke-width="1.5" stroke-linecap="butt"/>
<line x1="970.90" y1="405.80" x2="970.90" y2="559.60" stroke="#333" stroke-width="1.5" stroke-linecap="butt"/>
<line x1="1135.10" y1="405.80" x2="1135.10" y2="559.60" stroke="#333" stroke-width="1.5" stroke-linecap="butt"/>
<text x="0.00" y="0.00" font-size="46" text-anchor="start" fill="#1a1a1a" textLength="66.00" lengthAdjust="spacingAndGlyphs" transform="translate(55.30,617.90) scale(1,1.04)">(C)</text>
<line x1="103.00" y1="657.00" x2="103.00" y2="956.00" stroke="#000" stroke-width="3.2" stroke-linecap="butt"/>
<line x1="90.00" y1="954.50" x2="486.50" y2="954.50" stroke="#000" stroke-width="3.2" stroke-linecap="butt"/>
<line x1="90.00" y1="657.05" x2="103.00" y2="657.05" stroke="#000" stroke-width="3.2" stroke-linecap="butt"/>
<text x="0.00" y="0.00" font-size="19.2" font-weight="bold" stroke="#000" stroke-width="0.4" text-anchor="end" fill="#000" transform="translate(86.80,663.85) scale(1,1.04)">1.5</text>
<line x1="90.00" y1="756.20" x2="103.00" y2="756.20" stroke="#000" stroke-width="3.2" stroke-linecap="butt"/>
<text x="0.00" y="0.00" font-size="19.2" font-weight="bold" stroke="#000" stroke-width="0.4" text-anchor="end" fill="#000" transform="translate(86.80,763.00) scale(1,1.04)">1.0</text>
<line x1="90.00" y1="855.35" x2="103.00" y2="855.35" stroke="#000" stroke-width="3.2" stroke-linecap="butt"/>
<text x="0.00" y="0.00" font-size="19.2" font-weight="bold" stroke="#000" stroke-width="0.4" text-anchor="end" fill="#000" transform="translate(86.80,862.15) scale(1,1.04)">0.5</text>
<line x1="90.00" y1="954.50" x2="103.00" y2="954.50" stroke="#000" stroke-width="3.2" stroke-linecap="butt"/>
<text x="0.00" y="0.00" font-size="19.2" font-weight="bold" stroke="#000" stroke-width="0.4" text-anchor="end" fill="#000" transform="translate(86.80,961.30) scale(1,1.04)">0.0</text>
<path d="M110.20 756.20h0M117.83 756.20h0M125.46 756.20h0M133.09 756.20h0M140.72 756.20h0M148.35 756.20h0M155.98 756.20h0M163.61 756.20h0M171.24 756.20h0M178.87 756.20h0M186.50 756.20h0M194.13 756.20h0M201.76 756.20h0M209.39 756.20h0M217.02 756.20h0M224.65 756.20h0M232.28 756.20h0M239.91 756.20h0M247.54 756.20h0M255.17 756.20h0M262.80 756.20h0M270.43 756.20h0M278.06 756.20h0M285.69 756.20h0M293.32 756.20h0M300.95 756.20h0M308.58 756.20h0M316.21 756.20h0M323.84 756.20h0M331.47 756.20h0M339.10 756.20h0M346.73 756.20h0M354.36 756.20h0M361.99 756.20h0M369.62 756.20h0M377.25 756.20h0M384.88 756.20h0M392.51 756.20h0M400.14 756.20h0M407.77 756.20h0M415.40 756.20h0M423.03 756.20h0M430.66 756.20h0M438.29 756.20h0M445.92 756.20h0M453.55 756.20h0M461.18 756.20h0M468.81 756.20h0M476.44 756.20h0M484.07 756.20h0" stroke="#000" stroke-width="3.2" stroke-linecap="round"/>
<pattern id="ck1" patternUnits="userSpaceOnUse" x="113.50" y="825.60" width="20.2" height="20.2"><rect width="20.2" height="20.2" fill="#ffffff"/><rect x="10.1" width="10.1" height="10.1" fill="#6e6e6e"/><rect y="10.1" width="10.1" height="10.1" fill="#6e6e6e"/></pattern>
<rect x="120.60" y="811.60" width="18.60" height="142.90" fill="url(#ck1)" stroke="none" stroke-width="0"/>
<rect x="118.80" y="809.80" width="22.20" height="144.70" fill="none" stroke="#000" stroke-width="3.6"/>
<rect x="151.10" y="814.60" width="22.20" height="139.90" fill="#fff" stroke="#000" stroke-width="3.6"/>
<line x1="129.90" y1="784.30" x2="129.90" y2="831.70" stroke="#000" stroke-width="1.6" stroke-linecap="butt"/>
<line x1="123.15" y1="784.30" x2="136.65" y2="784.30" stroke="#000" stroke-width="1.6" stroke-linecap="butt"/>
<line x1="123.15" y1="831.70" x2="136.65" y2="831.70" stroke="#000" stroke-width="1.6" stroke-linecap="butt"/>
<line x1="162.20" y1="794.50" x2="162.20" y2="830.90" stroke="#000" stroke-width="1.6" stroke-linecap="butt"/>
<line x1="155.45" y1="794.50" x2="168.95" y2="794.50" stroke="#000" stroke-width="1.6" stroke-linecap="butt"/>
<line x1="155.45" y1="830.90" x2="168.95" y2="830.90" stroke="#000" stroke-width="1.6" stroke-linecap="butt"/>
<line x1="162.20" y1="954.50" x2="162.20" y2="961.00" stroke="#000" stroke-width="3.2" stroke-linecap="butt"/>
<text x="0.00" y="0.00" font-size="19.2" font-weight="bold" stroke="#000" stroke-width="0.4" text-anchor="end" fill="#000" transform="translate(164.20,981.50) rotate(-21) scale(1,1.04)">PCNA</text>
<pattern id="ck2" patternUnits="userSpaceOnUse" x="219.80" y="788.90" width="20.2" height="20.2"><rect width="20.2" height="20.2" fill="#e2e2e2"/><rect x="10.1" width="10.1" height="10.1" fill="#6e6e6e"/><rect y="10.1" width="10.1" height="10.1" fill="#6e6e6e"/></pattern>
<rect x="219.20" y="788.00" width="18.60" height="166.50" fill="url(#ck2)" stroke="none" stroke-width="0"/>
<rect x="217.40" y="786.20" width="22.20" height="168.30" fill="none" stroke="#000" stroke-width="3.6"/>
<rect x="249.70" y="849.80" width="22.20" height="104.70" fill="#fff" stroke="#000" stroke-width="3.6"/>
<line x1="228.50" y1="761.80" x2="228.50" y2="808.10" stroke="#000" stroke-width="1.6" stroke-linecap="butt"/>
<line x1="221.75" y1="761.80" x2="235.25" y2="761.80" stroke="#000" stroke-width="1.6" stroke-linecap="butt"/>
<line x1="221.75" y1="808.10" x2="235.25" y2="808.10" stroke="#000" stroke-width="1.6" stroke-linecap="butt"/>
<line x1="260.80" y1="838.60" x2="260.80" y2="857.50" stroke="#000" stroke-width="1.6" stroke-linecap="butt"/>
<line x1="254.05" y1="838.60" x2="267.55" y2="838.60" stroke="#000" stroke-width="1.6" stroke-linecap="butt"/>
<line x1="254.05" y1="857.50" x2="267.55" y2="857.50" stroke="#000" stroke-width="1.6" stroke-linecap="butt"/>
<line x1="260.80" y1="954.50" x2="260.80" y2="961.00" stroke="#000" stroke-width="3.2" stroke-linecap="butt"/>
<text x="0.00" y="0.00" font-size="19.2" font-weight="bold" stroke="#000" stroke-width="0.4" text-anchor="end" fill="#000" transform="translate(262.80,981.50) rotate(-21) scale(1,1.04)">DNAPKcs</text>
<pattern id="ck3" patternUnits="userSpaceOnUse" x="317.00" y="911.70" width="20.2" height="20.2"><rect width="20.2" height="20.2" fill="#ffffff"/><rect x="10.1" width="10.1" height="10.1" fill="#6e6e6e"/><rect y="10.1" width="10.1" height="10.1" fill="#6e6e6e"/></pattern>
<rect x="317.80" y="829.70" width="18.60" height="124.80" fill="url(#ck3)" stroke="none" stroke-width="0"/>
<rect x="316.00" y="827.90" width="22.20" height="126.60" fill="none" stroke="#000" stroke-width="3.6"/>
<rect x="348.30" y="856.60" width="22.20" height="97.90" fill="#fff" stroke="#000" stroke-width="3.6"/>
<line x1="327.10" y1="756.60" x2="327.10" y2="895.40" stroke="#000" stroke-width="1.6" stroke-linecap="butt"/>
<line x1="320.35" y1="756.60" x2="333.85" y2="756.60" stroke="#000" stroke-width="1.6" stroke-linecap="butt"/>
<line x1="320.35" y1="895.40" x2="333.85" y2="895.40" stroke="#000" stroke-width="1.6" stroke-linecap="butt"/>
<line x1="359.40" y1="831.70" x2="359.40" y2="877.90" stroke="#000" stroke-width="1.6" stroke-linecap="butt"/>
<line x1="352.65" y1="831.70" x2="366.15" y2="831.70" stroke="#000" stroke-width="1.6" stroke-linecap="butt"/>
<line x1="352.65" y1="877.90" x2="366.15" y2="877.90" stroke="#000" stroke-width="1.6" stroke-linecap="butt"/>
<line x1="359.40" y1="954.50" x2="359.40" y2="961.00" stroke="#000" stroke-width="3.2" stroke-linecap="butt"/>
<text x="0.00" y="0.00" font-size="19.2" font-weight="bold" stroke="#000" stroke-width="0.4" text-anchor="end" fill="#000" transform="translate(361.40,981.50) rotate(-21) scale(1,1.04)">pCHK2 (T68)</text>
<pattern id="ck4" patternUnits="userSpaceOnUse" x="414.00" y="901.50" width="20.2" height="20.2"><rect width="20.2" height="20.2" fill="#ffffff"/><rect x="10.1" width="10.1" height="10.1" fill="#6e6e6e"/><rect y="10.1" width="10.1" height="10.1" fill="#6e6e6e"/></pattern>
<rect x="416.40" y="793.60" width="18.60" height="160.90" fill="url(#ck4)" stroke="none" stroke-width="0"/>
<rect x="414.60" y="791.80" width="22.20" height="162.70" fill="none" stroke="#000" stroke-width="3.6"/>
<rect x="446.90" y="851.40" width="22.20" height="103.10" fill="#fff" stroke="#000" stroke-width="3.6"/>
<line x1="425.70" y1="752.80" x2="425.70" y2="827.90" stroke="#000" stroke-width="1.6" stroke-linecap="butt"/>
<line x1="418.95" y1="752.80" x2="432.45" y2="752.80" stroke="#000" stroke-width="1.6" stroke-linecap="butt"/>
<line x1="418.95" y1="827.90" x2="432.45" y2="827.90" stroke="#000" stroke-width="1.6" stroke-linecap="butt"/>
<line x1="458.00" y1="811.20" x2="458.00" y2="886.60" stroke="#000" stroke-width="1.6" stroke-linecap="butt"/>
<line x1="451.25" y1="811.20" x2="464.75" y2="811.20" stroke="#000" stroke-width="1.6" stroke-linecap="butt"/>
<line x1="451.25" y1="886.60" x2="464.75" y2="886.60" stroke="#000" stroke-width="1.6" stroke-linecap="butt"/>
<line x1="458.00" y1="954.50" x2="458.00" y2="961.00" stroke="#000" stroke-width="3.2" stroke-linecap="butt"/>
<text x="0.00" y="0.00" font-size="19.2" font-weight="bold" stroke="#000" stroke-width="0.4" text-anchor="end" fill="#000" transform="translate(460.00,981.50) rotate(-21) scale(1,1.04)">pATM (S1981)</text>
<text x="0.00" y="0.00" font-size="14" text-anchor="start" fill="#000" textLength="47.30" lengthAdjust="spacingAndGlyphs" transform="translate(105.50,711.50) scale(1,1.04)">p = 0.16</text>
<line x1="119.40" y1="723.60" x2="139.70" y2="723.60" stroke="#000" stroke-width="3" stroke-linecap="round"/>
<text x="0.00" y="0.00" font-size="14" text-anchor="start" fill="#000" textLength="48.20" lengthAdjust="spacingAndGlyphs" transform="translate(138.20,737.40) scale(1,1.04)">p = 0.09</text>
<line x1="152.20" y1="749.10" x2="172.60" y2="749.10" stroke="#000" stroke-width="3" stroke-linecap="round"/>
<path d="M255.16 731.50L255.85 723.90L251.75 723.90L252.44 731.50ZM254.48 730.32L248.24 725.93L246.19 729.47L253.12 732.68ZM253.12 730.32L246.19 733.53L248.24 737.07L254.48 732.68ZM252.44 731.50L251.75 739.10L255.85 739.10L255.16 731.50ZM253.12 732.68L259.36 737.07L261.41 733.53L254.48 730.32ZM254.48 732.68L261.41 729.47L259.36 725.93L253.12 730.32Z" fill="#000"/>
<circle cx="253.80" cy="731.50" r="2.40" fill="#000"/>
<path d="M269.66 731.50L270.35 723.90L266.25 723.90L266.94 731.50ZM268.98 730.32L262.74 725.93L260.69 729.47L267.62 732.68ZM267.62 730.32L260.69 733.53L262.74 737.07L268.98 732.68ZM266.94 731.50L266.25 739.10L270.35 739.10L269.66 731.50ZM267.62 732.68L273.86 737.07L275.91 733.53L268.98 730.32ZM268.98 732.68L275.91 729.47L273.86 725.93L267.62 730.32Z" fill="#000"/>
<circle cx="268.30" cy="731.50" r="2.40" fill="#000"/>
<line x1="251.00" y1="749.10" x2="271.40" y2="749.10" stroke="#000" stroke-width="3" stroke-linecap="round"/>
<path d="M361.26 731.50L361.95 723.90L357.85 723.90L358.54 731.50ZM360.58 730.32L354.34 725.93L352.29 729.47L359.22 732.68ZM359.22 730.32L352.29 733.53L354.34 737.07L360.58 732.68ZM358.54 731.50L357.85 739.10L361.95 739.10L361.26 731.50ZM359.22 732.68L365.46 737.07L367.51 733.53L360.58 730.32ZM360.58 732.68L367.51 729.47L365.46 725.93L359.22 730.32Z" fill="#000"/>
<circle cx="359.90" cy="731.50" r="2.40" fill="#000"/>
<line x1="349.60" y1="749.10" x2="370.00" y2="749.10" stroke="#000" stroke-width="3" stroke-linecap="round"/>
<text x="0.00" y="0.00" font-size="14" text-anchor="start" fill="#000" textLength="49.30" lengthAdjust="spacingAndGlyphs" transform="translate(434.20,737.40) scale(1,1.04)">p = 0.13</text>
<line x1="448.20" y1="749.10" x2="469.00" y2="749.10" stroke="#000" stroke-width="3" stroke-linecap="round"/>
<pattern id="ck5" patternUnits="userSpaceOnUse" x="394.90" y="651.70" width="20.4" height="20.4"><rect width="20.4" height="20.4" fill="#ffffff"/><rect x="10.2" width="10.2" height="10.2" fill="#6e6e6e"/><rect y="10.2" width="10.2" height="10.2" fill="#6e6e6e"/></pattern>
<rect x="388.00" y="651.00" width="46.00" height="17.00" fill="url(#ck5)" stroke="none" stroke-width="0"/>
<rect x="387.75" y="650.95" width="46.10" height="16.60" fill="none" stroke="#000" stroke-width="3.5"/>
<rect x="387.75" y="677.65" width="46.10" height="16.20" fill="#fff" stroke="#000" stroke-width="3.5"/>
<text x="0.00" y="0.00" font-size="22" text-anchor="start" fill="#000" textLength="55.40" lengthAdjust="spacingAndGlyphs" transform="translate(444.60,667.10) scale(1,1.04)">HBL-1</text>
<text x="0.00" y="0.00" font-size="22" text-anchor="start" fill="#000" textLength="26.80" lengthAdjust="spacingAndGlyphs" transform="translate(444.60,693.60) scale(1,1.04)">HT</text>
<text x="0.00" y="0.00" font-size="20" font-weight="bold" stroke="#000" stroke-width="0.4" text-anchor="middle" fill="#000" textLength="117.30" lengthAdjust="spacingAndGlyphs" transform="translate(24.50,806.40) rotate(-90) scale(1,1.04)">Fold change</text>
<text x="0.00" y="0.00" font-size="20" font-weight="bold" stroke="#000" stroke-width="0.4" text-anchor="middle" fill="#000" textLength="293.60" lengthAdjust="spacingAndGlyphs" transform="translate(49.80,806.00) rotate(-90) scale(1,1.04)">Protein MSi2 KD relative to ctrl</text>
<text x="0.00" y="0.00" font-size="46" text-anchor="start" fill="#1a1a1a" textLength="65.40" lengthAdjust="spacingAndGlyphs" transform="translate(541.80,615.70) scale(1,1.04)">(D)</text>
<line x1="626.50" y1="660.00" x2="626.50" y2="977.30" stroke="#000" stroke-width="3" stroke-linecap="butt"/>
<line x1="616.60" y1="975.80" x2="1366.00" y2="975.80" stroke="#000" stroke-width="3" stroke-linecap="butt"/>
<line x1="616.60" y1="679.40" x2="626.50" y2="679.40" stroke="#000" stroke-width="3" stroke-linecap="butt"/>
<text x="0.00" y="0.00" font-size="16" font-weight="bold" stroke="#000" stroke-width="0.4" text-anchor="end" fill="#000" transform="translate(613.90,685.10) scale(1,1.04)">1.5</text>
<line x1="616.60" y1="778.20" x2="626.50" y2="778.20" stroke="#000" stroke-width="3" stroke-linecap="butt"/>
<text x="0.00" y="0.00" font-size="16" font-weight="bold" stroke="#000" stroke-width="0.4" text-anchor="end" fill="#000" transform="translate(613.90,783.90) scale(1,1.04)">1.0</text>
<line x1="616.60" y1="877.00" x2="626.50" y2="877.00" stroke="#000" stroke-width="3" stroke-linecap="butt"/>
<text x="0.00" y="0.00" font-size="16" font-weight="bold" stroke="#000" stroke-width="0.4" text-anchor="end" fill="#000" transform="translate(613.90,882.70) scale(1,1.04)">0.5</text>
<line x1="616.60" y1="975.80" x2="626.50" y2="975.80" stroke="#000" stroke-width="3" stroke-linecap="butt"/>
<text x="0.00" y="0.00" font-size="16" font-weight="bold" stroke="#000" stroke-width="0.4" text-anchor="end" fill="#000" transform="translate(613.90,981.50) scale(1,1.04)">0.0</text>
<path d="M633.00 778.20h0M639.45 778.20h0M645.90 778.20h0M652.35 778.20h0M658.80 778.20h0M665.25 778.20h0M671.70 778.20h0M678.15 778.20h0M684.60 778.20h0M691.05 778.20h0M697.50 778.20h0M703.95 778.20h0M710.40 778.20h0M716.85 778.20h0M723.30 778.20h0M729.75 778.20h0M736.20 778.20h0M742.65 778.20h0M749.10 778.20h0M755.55 778.20h0M762.00 778.20h0M768.45 778.20h0M774.90 778.20h0M781.35 778.20h0M787.80 778.20h0M794.25 778.20h0M800.70 778.20h0M807.15 778.20h0M813.60 778.20h0M820.05 778.20h0M826.50 778.20h0M832.95 778.20h0M839.40 778.20h0M845.85 778.20h0M852.30 778.20h0M858.75 778.20h0M865.20 778.20h0M871.65 778.20h0M878.10 778.20h0M884.55 778.20h0M891.00 778.20h0M897.45 778.20h0M903.90 778.20h0M910.35 778.20h0M916.80 778.20h0M923.25 778.20h0M929.70 778.20h0M936.15 778.20h0M942.60 778.20h0M949.05 778.20h0M955.50 778.20h0M961.95 778.20h0M968.40 778.20h0M974.85 778.20h0M981.30 778.20h0M987.75 778.20h0M994.20 778.20h0M1000.65 778.20h0M1007.10 778.20h0M1013.55 778.20h0M1020.00 778.20h0M1026.45 778.20h0M1032.90 778.20h0M1039.35 778.20h0M1045.80 778.20h0M1052.25 778.20h0M1058.70 778.20h0M1065.15 778.20h0M1071.60 778.20h0M1078.05 778.20h0M1084.50 778.20h0M1090.95 778.20h0M1097.40 778.20h0M1103.85 778.20h0M1110.30 778.20h0M1116.75 778.20h0M1123.20 778.20h0M1129.65 778.20h0M1136.10 778.20h0M1142.55 778.20h0M1149.00 778.20h0M1155.45 778.20h0M1161.90 778.20h0M1168.35 778.20h0M1174.80 778.20h0M1181.25 778.20h0M1187.70 778.20h0M1194.15 778.20h0M1200.60 778.20h0M1207.05 778.20h0M1213.50 778.20h0M1219.95 778.20h0M1226.40 778.20h0M1232.85 778.20h0M1239.30 778.20h0M1245.75 778.20h0M1252.20 778.20h0M1258.65 778.20h0M1265.10 778.20h0M1271.55 778.20h0M1278.00 778.20h0M1284.45 778.20h0M1290.90 778.20h0M1297.35 778.20h0M1303.80 778.20h0M1310.25 778.20h0M1316.70 778.20h0M1323.15 778.20h0M1329.60 778.20h0M1336.05 778.20h0M1342.50 778.20h0M1348.95 778.20h0M1355.40 778.20h0M1361.85 778.20h0" stroke="#000" stroke-width="2.6" stroke-linecap="round"/>
<rect x="646.60" y="752.60" width="30.00" height="223.20" fill="#fff" stroke="#000" stroke-width="3"/>
<line x1="661.60" y1="674.60" x2="661.60" y2="827.50" stroke="#000" stroke-width="1.3" stroke-linecap="butt"/>
<line x1="653.10" y1="674.60" x2="670.10" y2="674.60" stroke="#000" stroke-width="1.3" stroke-linecap="butt"/>
<line x1="653.10" y1="827.50" x2="670.10" y2="827.50" stroke="#000" stroke-width="1.3" stroke-linecap="butt"/>
<line x1="661.60" y1="975.80" x2="661.60" y2="987.00" stroke="#000" stroke-width="3" stroke-linecap="butt"/>
<text x="0.00" y="0.00" font-size="16.6" font-weight="bold" stroke="#000" stroke-width="0.4" text-anchor="end" fill="#000" transform="translate(664.60,1003.00) rotate(-45) scale(1,1.04)">Acetyl Histone H3 (K9)</text>
<rect x="698.07" y="856.80" width="30.00" height="119.00" fill="#fff" stroke="#000" stroke-width="3"/>
<line x1="713.07" y1="824.40" x2="713.07" y2="886.90" stroke="#000" stroke-width="1.3" stroke-linecap="butt"/>
<line x1="704.57" y1="824.40" x2="721.57" y2="824.40" stroke="#000" stroke-width="1.3" stroke-linecap="butt"/>
<line x1="704.57" y1="886.90" x2="721.57" y2="886.90" stroke="#000" stroke-width="1.3" stroke-linecap="butt"/>
<line x1="713.07" y1="975.80" x2="713.07" y2="987.00" stroke="#000" stroke-width="3" stroke-linecap="butt"/>
<text x="0.00" y="0.00" font-size="16.6" font-weight="bold" stroke="#000" stroke-width="0.4" text-anchor="end" fill="#000" transform="translate(716.07,1003.00) rotate(-45) scale(1,1.04)">ATM (S1981)</text>
<rect x="749.54" y="846.40" width="30.00" height="129.40" fill="#fff" stroke="#000" stroke-width="3"/>
<line x1="764.54" y1="813.70" x2="764.54" y2="876.50" stroke="#000" stroke-width="1.3" stroke-linecap="butt"/>
<line x1="756.04" y1="813.70" x2="773.04" y2="813.70" stroke="#000" stroke-width="1.3" stroke-linecap="butt"/>
<line x1="756.04" y1="876.50" x2="773.04" y2="876.50" stroke="#000" stroke-width="1.3" stroke-linecap="butt"/>
<line x1="764.54" y1="975.80" x2="764.54" y2="987.00" stroke="#000" stroke-width="3" stroke-linecap="butt"/>
<text x="0.00" y="0.00" font-size="16.6" font-weight="bold" stroke="#000" stroke-width="0.4" text-anchor="end" fill="#000" transform="translate(767.54,1003.00) rotate(-45) scale(1,1.04)">CDC2/CDK1 (Y15)</text>
<rect x="801.01" y="880.10" width="30.00" height="95.70" fill="#fff" stroke="#000" stroke-width="3"/>
<line x1="816.01" y1="870.40" x2="816.01" y2="886.90" stroke="#000" stroke-width="1.3" stroke-linecap="butt"/>
<line x1="807.51" y1="870.40" x2="824.51" y2="870.40" stroke="#000" stroke-width="1.3" stroke-linecap="butt"/>
<line x1="807.51" y1="886.90" x2="824.51" y2="886.90" stroke="#000" stroke-width="1.3" stroke-linecap="butt"/>
<line x1="816.01" y1="975.80" x2="816.01" y2="987.00" stroke="#000" stroke-width="3" stroke-linecap="butt"/>
<text x="0.00" y="0.00" font-size="16.6" font-weight="bold" stroke="#000" stroke-width="0.4" text-anchor="end" fill="#000" transform="translate(819.01,1003.00) rotate(-45) scale(1,1.04)">CDC25a (S293)</text>
<rect x="852.48" y="860.50" width="30.00" height="115.30" fill="#fff" stroke="#000" stroke-width="3"/>
<line x1="867.48" y1="786.10" x2="867.48" y2="933.20" stroke="#000" stroke-width="1.3" stroke-linecap="butt"/>
<line x1="858.98" y1="786.10" x2="875.98" y2="786.10" stroke="#000" stroke-width="1.3" stroke-linecap="butt"/>
<line x1="858.98" y1="933.20" x2="875.98" y2="933.20" stroke="#000" stroke-width="1.3" stroke-linecap="butt"/>
<line x1="867.48" y1="975.80" x2="867.48" y2="987.00" stroke="#000" stroke-width="3" stroke-linecap="butt"/>
<text x="0.00" y="0.00" font-size="16.6" font-weight="bold" stroke="#000" stroke-width="0.4" text-anchor="end" fill="#000" transform="translate(870.48,1003.00) rotate(-45) scale(1,1.04)">CHK1 (S296)</text>
<rect x="903.95" y="802.00" width="30.00" height="173.80" fill="#fff" stroke="#000" stroke-width="3"/>
<line x1="918.95" y1="790.10" x2="918.95" y2="811.60" stroke="#000" stroke-width="1.3" stroke-linecap="butt"/>
<line x1="910.45" y1="790.10" x2="927.45" y2="790.10" stroke="#000" stroke-width="1.3" stroke-linecap="butt"/>
<line x1="910.45" y1="811.60" x2="927.45" y2="811.60" stroke="#000" stroke-width="1.3" stroke-linecap="butt"/>
<line x1="918.95" y1="975.80" x2="918.95" y2="987.00" stroke="#000" stroke-width="3" stroke-linecap="butt"/>
<text x="0.00" y="0.00" font-size="16.6" font-weight="bold" stroke="#000" stroke-width="0.4" text-anchor="end" fill="#000" transform="translate(921.95,1003.00) rotate(-45) scale(1,1.04)">CHK2 (T68)</text>
<rect x="955.42" y="780.20" width="30.00" height="195.60" fill="#fff" stroke="#000" stroke-width="3"/>
<line x1="970.42" y1="694.00" x2="970.42" y2="862.60" stroke="#000" stroke-width="1.3" stroke-linecap="butt"/>
<line x1="961.92" y1="694.00" x2="978.92" y2="694.00" stroke="#000" stroke-width="1.3" stroke-linecap="butt"/>
<line x1="961.92" y1="862.60" x2="978.92" y2="862.60" stroke="#000" stroke-width="1.3" stroke-linecap="butt"/>
<line x1="970.42" y1="975.80" x2="970.42" y2="987.00" stroke="#000" stroke-width="3" stroke-linecap="butt"/>
<text x="0.00" y="0.00" font-size="16.6" font-weight="bold" stroke="#000" stroke-width="0.4" text-anchor="end" fill="#000" transform="translate(973.42,1003.00) rotate(-45) scale(1,1.04)">Cyclin B1 (S126)</text>
<rect x="1006.89" y="890.70" width="30.00" height="85.10" fill="#fff" stroke="#000" stroke-width="3"/>
<line x1="1021.89" y1="876.40" x2="1021.89" y2="901.60" stroke="#000" stroke-width="1.3" stroke-linecap="butt"/>
<line x1="1013.39" y1="876.40" x2="1030.39" y2="876.40" stroke="#000" stroke-width="1.3" stroke-linecap="butt"/>
<line x1="1013.39" y1="901.60" x2="1030.39" y2="901.60" stroke="#000" stroke-width="1.3" stroke-linecap="butt"/>
<line x1="1021.89" y1="975.80" x2="1021.89" y2="987.00" stroke="#000" stroke-width="3" stroke-linecap="butt"/>
<text x="0.00" y="0.00" font-size="16.6" font-weight="bold" stroke="#000" stroke-width="0.4" text-anchor="end" fill="#000" transform="translate(1024.89,1003.00) rotate(-45) scale(1,1.04)">NBS1 (S343)</text>
<path d="M1023.00 693.20L1023.55 686.90L1020.23 686.90L1020.78 693.20ZM1022.44 692.24L1017.27 688.61L1015.60 691.49L1021.34 694.16ZM1021.34 692.24L1015.60 694.91L1017.27 697.79L1022.44 694.16ZM1020.78 693.20L1020.23 699.50L1023.55 699.50L1023.00 693.20ZM1021.34 694.16L1026.51 697.79L1028.18 694.91L1022.44 692.24ZM1022.44 694.16L1028.18 691.49L1026.51 688.61L1021.34 692.24Z" fill="#000"/>
<circle cx="1021.89" cy="693.20" r="1.95" fill="#000"/>
<line x1="1014.39" y1="708.20" x2="1029.39" y2="708.20" stroke="#000" stroke-width="2.6" stroke-linecap="round"/>
<rect x="1058.36" y="887.70" width="30.00" height="88.10" fill="#fff" stroke="#000" stroke-width="3"/>
<line x1="1073.36" y1="871.80" x2="1073.36" y2="900.10" stroke="#000" stroke-width="1.3" stroke-linecap="butt"/>
<line x1="1064.86" y1="871.80" x2="1081.86" y2="871.80" stroke="#000" stroke-width="1.3" stroke-linecap="butt"/>
<line x1="1064.86" y1="900.10" x2="1081.86" y2="900.10" stroke="#000" stroke-width="1.3" stroke-linecap="butt"/>
<line x1="1073.36" y1="975.80" x2="1073.36" y2="987.00" stroke="#000" stroke-width="3" stroke-linecap="butt"/>
<text x="0.00" y="0.00" font-size="16.6" font-weight="bold" stroke="#000" stroke-width="0.4" text-anchor="end" fill="#000" transform="translate(1076.36,1003.00) rotate(-45) scale(1,1.04)">P53 (S15)</text>
<path d="M1074.47 693.20L1075.02 686.90L1071.70 686.90L1072.26 693.20ZM1073.91 692.24L1068.74 688.61L1067.07 691.49L1072.81 694.16ZM1072.81 692.24L1067.07 694.91L1068.74 697.79L1073.91 694.16ZM1072.26 693.20L1071.70 699.50L1075.02 699.50L1074.47 693.20ZM1072.81 694.16L1077.98 697.79L1079.65 694.91L1073.91 692.24ZM1073.91 694.16L1079.65 691.49L1077.98 688.61L1072.81 692.24Z" fill="#000"/>
<circle cx="1073.36" cy="693.20" r="1.95" fill="#000"/>
<line x1="1065.86" y1="708.20" x2="1080.86" y2="708.20" stroke="#000" stroke-width="2.6" stroke-linecap="round"/>
<rect x="1109.83" y="825.60" width="30.00" height="150.20" fill="#fff" stroke="#000" stroke-width="3"/>
<line x1="1124.83" y1="719.20" x2="1124.83" y2="928.00" stroke="#000" stroke-width="1.3" stroke-linecap="butt"/>
<line x1="1116.33" y1="719.20" x2="1133.33" y2="719.20" stroke="#000" stroke-width="1.3" stroke-linecap="butt"/>
<line x1="1116.33" y1="928.00" x2="1133.33" y2="928.00" stroke="#000" stroke-width="1.3" stroke-linecap="butt"/>
<line x1="1124.83" y1="975.80" x2="1124.83" y2="987.00" stroke="#000" stroke-width="3" stroke-linecap="butt"/>
<text x="0.00" y="0.00" font-size="16.6" font-weight="bold" stroke="#000" stroke-width="0.4" text-anchor="end" fill="#000" transform="translate(1127.83,1003.00) rotate(-45) scale(1,1.04)">Cleaved PARP (D214/D215)</text>
<rect x="1161.30" y="851.10" width="30.00" height="124.70" fill="#fff" stroke="#000" stroke-width="3"/>
<line x1="1176.30" y1="832.80" x2="1176.30" y2="865.70" stroke="#000" stroke-width="1.3" stroke-linecap="butt"/>
<line x1="1167.80" y1="832.80" x2="1184.80" y2="832.80" stroke="#000" stroke-width="1.3" stroke-linecap="butt"/>
<line x1="1167.80" y1="865.70" x2="1184.80" y2="865.70" stroke="#000" stroke-width="1.3" stroke-linecap="butt"/>
<line x1="1176.30" y1="975.80" x2="1176.30" y2="987.00" stroke="#000" stroke-width="3" stroke-linecap="butt"/>
<text x="0.00" y="0.00" font-size="16.6" font-weight="bold" stroke="#000" stroke-width="0.4" text-anchor="end" fill="#000" transform="translate(1179.30,1003.00) rotate(-45) scale(1,1.04)">PKMYT1 (T495)</text>
<path d="M1177.41 693.20L1177.96 686.90L1174.64 686.90L1175.20 693.20ZM1176.85 692.24L1171.68 688.61L1170.01 691.49L1175.75 694.16ZM1175.75 692.24L1170.01 694.91L1171.68 697.79L1176.85 694.16ZM1175.20 693.20L1174.64 699.50L1177.96 699.50L1177.41 693.20ZM1175.75 694.16L1180.92 697.79L1182.59 694.91L1176.85 692.24ZM1176.85 694.16L1182.59 691.49L1180.92 688.61L1175.75 692.24Z" fill="#000"/>
<circle cx="1176.30" cy="693.20" r="1.95" fill="#000"/>
<line x1="1168.80" y1="708.20" x2="1183.80" y2="708.20" stroke="#000" stroke-width="2.6" stroke-linecap="round"/>
<rect x="1212.77" y="903.90" width="30.00" height="71.90" fill="#fff" stroke="#000" stroke-width="3"/>
<line x1="1227.77" y1="879.80" x2="1227.77" y2="924.60" stroke="#000" stroke-width="1.3" stroke-linecap="butt"/>
<line x1="1219.27" y1="879.80" x2="1236.27" y2="879.80" stroke="#000" stroke-width="1.3" stroke-linecap="butt"/>
<line x1="1219.27" y1="924.60" x2="1236.27" y2="924.60" stroke="#000" stroke-width="1.3" stroke-linecap="butt"/>
<line x1="1227.77" y1="975.80" x2="1227.77" y2="987.00" stroke="#000" stroke-width="3" stroke-linecap="butt"/>
<text x="0.00" y="0.00" font-size="16.6" font-weight="bold" stroke="#000" stroke-width="0.4" text-anchor="end" fill="#000" transform="translate(1230.77,1003.00) rotate(-45) scale(1,1.04)">RB1 (S811)</text>
<path d="M1228.88 693.20L1229.43 686.90L1226.11 686.90L1226.66 693.20ZM1228.32 692.24L1223.15 688.61L1221.48 691.49L1227.22 694.16ZM1227.22 692.24L1221.48 694.91L1223.15 697.79L1228.32 694.16ZM1226.66 693.20L1226.11 699.50L1229.43 699.50L1228.88 693.20ZM1227.22 694.16L1232.39 697.79L1234.06 694.91L1228.32 692.24ZM1228.32 694.16L1234.06 691.49L1232.39 688.61L1227.22 692.24Z" fill="#000"/>
<circle cx="1227.77" cy="693.20" r="1.95" fill="#000"/>
<line x1="1220.27" y1="708.20" x2="1235.27" y2="708.20" stroke="#000" stroke-width="2.6" stroke-linecap="round"/>
<rect x="1264.24" y="868.30" width="30.00" height="107.50" fill="#fff" stroke="#000" stroke-width="3"/>
<line x1="1279.24" y1="848.20" x2="1279.24" y2="885.00" stroke="#000" stroke-width="1.3" stroke-linecap="butt"/>
<line x1="1270.74" y1="848.20" x2="1287.74" y2="848.20" stroke="#000" stroke-width="1.3" stroke-linecap="butt"/>
<line x1="1270.74" y1="885.00" x2="1287.74" y2="885.00" stroke="#000" stroke-width="1.3" stroke-linecap="butt"/>
<line x1="1279.24" y1="975.80" x2="1279.24" y2="987.00" stroke="#000" stroke-width="3" stroke-linecap="butt"/>
<text x="0.00" y="0.00" font-size="16.6" font-weight="bold" stroke="#000" stroke-width="0.4" text-anchor="end" fill="#000" transform="translate(1282.24,1003.00) rotate(-45) scale(1,1.04)">RSK1 (S380)</text>
<path d="M1280.35 693.20L1280.90 686.90L1277.58 686.90L1278.13 693.20ZM1279.79 692.24L1274.62 688.61L1272.95 691.49L1278.69 694.16ZM1278.69 692.24L1272.95 694.91L1274.62 697.79L1279.79 694.16ZM1278.13 693.20L1277.58 699.50L1280.90 699.50L1280.35 693.20ZM1278.69 694.16L1283.86 697.79L1285.53 694.91L1279.79 692.24ZM1279.79 694.16L1285.53 691.49L1283.86 688.61L1278.69 692.24Z" fill="#000"/>
<circle cx="1279.24" cy="693.20" r="1.95" fill="#000"/>
<line x1="1271.74" y1="708.20" x2="1286.74" y2="708.20" stroke="#000" stroke-width="2.6" stroke-linecap="round"/>
<rect x="1315.71" y="887.70" width="30.00" height="88.10" fill="#fff" stroke="#000" stroke-width="3"/>
<line x1="1330.71" y1="870.30" x2="1330.71" y2="901.60" stroke="#000" stroke-width="1.3" stroke-linecap="butt"/>
<line x1="1322.21" y1="870.30" x2="1339.21" y2="870.30" stroke="#000" stroke-width="1.3" stroke-linecap="butt"/>
<line x1="1322.21" y1="901.60" x2="1339.21" y2="901.60" stroke="#000" stroke-width="1.3" stroke-linecap="butt"/>
<line x1="1330.71" y1="975.80" x2="1330.71" y2="987.00" stroke="#000" stroke-width="3" stroke-linecap="butt"/>
<text x="0.00" y="0.00" font-size="16.6" font-weight="bold" stroke="#000" stroke-width="0.4" text-anchor="end" fill="#000" transform="translate(1333.71,1003.00) rotate(-45) scale(1,1.04)">RSK2 (S386)</text>
<path d="M1331.82 693.20L1332.37 686.90L1329.05 686.90L1329.61 693.20ZM1331.26 692.24L1326.09 688.61L1324.42 691.49L1330.16 694.16ZM1330.16 692.24L1324.42 694.91L1326.09 697.79L1331.26 694.16ZM1329.61 693.20L1329.05 699.50L1332.37 699.50L1331.82 693.20ZM1330.16 694.16L1335.33 697.79L1337.00 694.91L1331.26 692.24ZM1331.26 694.16L1337.00 691.49L1335.33 688.61L1330.16 692.24Z" fill="#000"/>
<circle cx="1330.71" cy="693.20" r="1.95" fill="#000"/>
<line x1="1323.21" y1="708.20" x2="1338.21" y2="708.20" stroke="#000" stroke-width="2.6" stroke-linecap="round"/>
<text x="0.00" y="0.00" font-size="13.5" text-anchor="start" fill="#000" textLength="46.80" lengthAdjust="spacingAndGlyphs" transform="translate(689.20,699.10) scale(1,1.04)">p = 0.13</text>
<text x="0.00" y="0.00" font-size="13.5" text-anchor="start" fill="#000" textLength="46.80" lengthAdjust="spacingAndGlyphs" transform="translate(740.70,699.10) scale(1,1.04)">p = 0.17</text>
<path d="M810.71 693.60L811.26 687.40L807.94 687.40L808.50 693.60ZM810.15 692.64L805.06 689.06L803.40 691.94L809.05 694.56ZM809.05 692.64L803.40 695.26L805.06 698.14L810.15 694.56ZM808.50 693.60L807.94 699.80L811.26 699.80L810.71 693.60ZM809.05 694.56L814.14 698.14L815.80 695.26L810.15 692.64ZM810.15 694.56L815.80 691.94L814.14 689.06L809.05 692.64Z" fill="#000"/>
<circle cx="809.60" cy="693.60" r="1.95" fill="#000"/>
<path d="M823.11 693.60L823.66 687.40L820.34 687.40L820.89 693.60ZM822.55 692.64L817.46 689.06L815.80 691.94L821.45 694.56ZM821.45 692.64L815.80 695.26L817.46 698.14L822.55 694.56ZM820.89 693.60L820.34 699.80L823.66 699.80L823.11 693.60ZM821.45 694.56L826.54 698.14L828.20 695.26L822.55 692.64ZM822.55 694.56L828.20 691.94L826.54 689.06L821.45 692.64Z" fill="#000"/>
<circle cx="822.00" cy="693.60" r="1.95" fill="#000"/>
<line x1="701.80" y1="708.30" x2="723.80" y2="708.30" stroke="#000" stroke-width="2.6" stroke-linecap="round"/>
<line x1="753.50" y1="708.30" x2="775.30" y2="708.30" stroke="#000" stroke-width="2.6" stroke-linecap="round"/>
<line x1="801.30" y1="708.30" x2="829.50" y2="708.30" stroke="#000" stroke-width="2.6" stroke-linecap="round"/>
<text x="0.00" y="0.00" font-size="17.5" font-weight="bold" stroke="#000" stroke-width="0.4" text-anchor="middle" fill="#000" textLength="102.90" lengthAdjust="spacingAndGlyphs" transform="translate(559.70,817.80) rotate(-90) scale(1,1.04)">Fold change</text>
<text x="0.00" y="0.00" font-size="17" font-weight="bold" stroke="#000" stroke-width="0.4" text-anchor="middle" fill="#000" textLength="255.00" lengthAdjust="spacingAndGlyphs" transform="translate(581.00,818.40) rotate(-90) scale(1,1.04)">Protein MSi2 KD relative to ctrl</text>
<clipPath id="clipimge"><rect x="139.6" y="1206.6" width="518" height="409.5"/></clipPath>
<linearGradient id="bgge" x1="0" x2="1" y1="0" y2="0"><stop offset="0" stop-color="#909090"/><stop offset="0.5" stop-color="#8b8b8b"/><stop offset="1" stop-color="#868686"/></linearGradient>
<g clip-path="url(#clipimge)">
<rect x="139.60" y="1206.60" width="518.00" height="409.50" fill="url(#bgge)" stroke="none" stroke-width="0"/>
<circle cx="180.0" cy="1230.0" r="50" fill="#9a9a9a" opacity="0.6" filter="url(#db12)"/>
<circle cx="160.0" cy="1420.0" r="40" fill="#999" opacity="0.5" filter="url(#db12)"/>
<circle cx="340.0" cy="1425.0" r="40" fill="#9c9c9c" opacity="0.7" filter="url(#db10)"/>
<circle cx="420.0" cy="1545.0" r="30" fill="#a0a0a0" opacity="0.7" filter="url(#db8)"/>
<circle cx="560.0" cy="1230.0" r="60" fill="#808080" opacity="0.5" filter="url(#db14)"/>
<circle cx="640.0" cy="1300.0" r="40" fill="#7e7e7e" opacity="0.5" filter="url(#db12)"/>
<circle cx="183.9" cy="1272.0" r="15" fill="#3a3a3a" opacity="0.324" filter="url(#db7)"/>
<circle cx="246.1" cy="1271.0" r="15" fill="#3a3a3a" opacity="0.302" filter="url(#db7)"/>
<circle cx="181.0" cy="1334.0" r="15" fill="#3a3a3a" opacity="0.36" filter="url(#db7)"/>
<circle cx="240.0" cy="1333.0" r="15" fill="#3a3a3a" opacity="0.324" filter="url(#db7)"/>
<circle cx="182.6" cy="1393.7" r="15" fill="#3a3a3a" opacity="0.36" filter="url(#db7)"/>
<circle cx="242.4" cy="1393.7" r="15" fill="#3a3a3a" opacity="0.36" filter="url(#db7)"/>
<circle cx="304.0" cy="1393.0" r="15" fill="#3a3a3a" opacity="0.274" filter="url(#db7)"/>
<circle cx="423.7" cy="1391.0" r="15" fill="#3a3a3a" opacity="0.396" filter="url(#db7)"/>
<circle cx="543.1" cy="1391.9" r="15" fill="#3a3a3a" opacity="0.13" filter="url(#db7)"/>
<circle cx="605.7" cy="1390.0" r="15" fill="#3a3a3a" opacity="0.144" filter="url(#db7)"/>
<circle cx="182.6" cy="1450.8" r="15" fill="#3a3a3a" opacity="0.36" filter="url(#db7)"/>
<circle cx="242.4" cy="1457.4" r="15" fill="#3a3a3a" opacity="0.36" filter="url(#db7)"/>
<circle cx="304.0" cy="1452.7" r="15" fill="#3a3a3a" opacity="0.274" filter="url(#db7)"/>
<circle cx="423.7" cy="1454.6" r="15" fill="#3a3a3a" opacity="0.396" filter="url(#db7)"/>
<circle cx="547.0" cy="1454.6" r="15" fill="#3a3a3a" opacity="0.13" filter="url(#db7)"/>
<circle cx="609.5" cy="1457.4" r="15" fill="#3a3a3a" opacity="0.144" filter="url(#db7)"/>
<circle cx="180.7" cy="1521.9" r="15" fill="#3a3a3a" opacity="0.36" filter="url(#db7)"/>
<circle cx="242.4" cy="1516.2" r="15" fill="#3a3a3a" opacity="0.36" filter="url(#db7)"/>
<circle cx="364.7" cy="1516.2" r="15" fill="#3a3a3a" opacity="0.18" filter="url(#db7)"/>
<circle cx="486.2" cy="1512.4" r="15" fill="#3a3a3a" opacity="0.396" filter="url(#db7)"/>
<circle cx="607.6" cy="1512.4" r="15" fill="#3a3a3a" opacity="0.36" filter="url(#db7)"/>
<circle cx="180.7" cy="1576.9" r="15" fill="#3a3a3a" opacity="0.288" filter="url(#db7)"/>
<circle cx="242.4" cy="1578.8" r="15" fill="#3a3a3a" opacity="0.418" filter="url(#db7)"/>
<circle cx="363.7" cy="1575.0" r="15" fill="#3a3a3a" opacity="0.18" filter="url(#db7)"/>
<circle cx="490.0" cy="1571.2" r="15" fill="#3a3a3a" opacity="0.432" filter="url(#db7)"/>
<circle cx="605.7" cy="1575.0" r="15" fill="#3a3a3a" opacity="0.36" filter="url(#db7)"/>
<circle cx="366.6" cy="1391.8" r="26" fill="#a0a0a0" opacity="0.75" filter="url(#db6)"/>
<circle cx="366.6" cy="1454.6" r="26" fill="#a0a0a0" opacity="0.75" filter="url(#db6)"/>
<circle cx="366.6" cy="1423.0" r="22" fill="#a0a0a0" opacity="0.7" filter="url(#db6)"/>
<circle cx="366.6" cy="1391.8" r="17" fill="#3a3a3a" opacity="0.78" filter="url(#db5)"/>
<circle cx="366.6" cy="1454.6" r="17" fill="#3a3a3a" opacity="0.85" filter="url(#db5)"/>
<circle cx="488.1" cy="1388.0" r="15" fill="#3a3a3a" opacity="0.72" filter="url(#db5)"/>
<circle cx="490.0" cy="1449.8" r="15" fill="#3a3a3a" opacity="0.72" filter="url(#db5)"/>
<circle cx="418.4" cy="1520.0" r="16" fill="#a6a6a6" opacity="0.7" filter="url(#db7)"/>
<circle cx="418.4" cy="1577.0" r="16" fill="#a6a6a6" opacity="0.7" filter="url(#db7)"/>
<circle cx="486.2" cy="1266.7" r="14" fill="#acacac" opacity="0.9" filter="url(#db6)"/>
<circle cx="488.1" cy="1327.4" r="15" fill="#aeaeae" opacity="0.9" filter="url(#db6)"/>
</g>
<rect x="158.10" y="1249.90" width="107.00" height="106.30" fill="none" stroke="#34508e" stroke-width="4"/>
<rect x="213.60" y="1370.50" width="53.40" height="107.10" fill="none" stroke="#e9b43a" stroke-width="4" stroke-dasharray="4 5.3" stroke-dashoffset="0"/>
<rect x="517.30" y="1370.50" width="52.30" height="107.10" fill="none" stroke="#cacaca" stroke-width="4" stroke-dasharray="13.8 4.9" stroke-dashoffset="0"/>
<rect x="581.30" y="1370.50" width="51.50" height="107.10" fill="none" stroke="#4f6b2a" stroke-width="4" stroke-dasharray="18.5 14.5" stroke-dashoffset="0"/>
<rect x="213.85" y="1494.05" width="52.90" height="106.60" fill="none" stroke="#4b1a57" stroke-width="4.5" stroke-dasharray="16.7 14.8 5.5 15" stroke-dashoffset="0"/>
<rect x="331.85" y="1494.05" width="51.80" height="106.60" fill="none" stroke="#fafa46" stroke-width="4.5" stroke-dasharray="38 14.4" stroke-dashoffset="0"/>
<rect x="393.85" y="1494.05" width="52.20" height="106.60" fill="none" stroke="#8e1515" stroke-width="4.5" stroke-dasharray="37.4 14.8 4.5 14.2" stroke-dashoffset="0"/>
<rect x="460.15" y="1494.05" width="50.60" height="106.60" fill="none" stroke="#5c9be2" stroke-width="4.5" stroke-dasharray="37.4 13.8 4.9 13.8 4.9 14.8" stroke-dashoffset="0"/>
<rect x="581.30" y="1493.80" width="52.30" height="107.10" fill="none" stroke="#34508e" stroke-width="4"/>
<text x="0.00" y="0.00" font-size="25" text-anchor="start" fill="#000" textLength="149.40" lengthAdjust="spacingAndGlyphs" transform="translate(316.50,1199.00) scale(1,1.04)">control (ctrl)</text>
<text x="0.00" y="0.00" font-size="46" text-anchor="start" fill="#1a1a1a" textLength="63.60" lengthAdjust="spacingAndGlyphs" transform="translate(65.20,1219.30) scale(1,1.04)">(E)</text>
<clipPath id="clipimgf"><rect x="789.6" y="1206.6" width="518" height="409.5"/></clipPath>
<linearGradient id="bggf" x1="0" x2="1" y1="0" y2="0"><stop offset="0" stop-color="#909090"/><stop offset="0.5" stop-color="#8b8b8b"/><stop offset="1" stop-color="#868686"/></linearGradient>
<g clip-path="url(#clipimgf)">
<rect x="789.60" y="1206.60" width="518.00" height="409.50" fill="url(#bggf)" stroke="none" stroke-width="0"/>
<circle cx="830.0" cy="1230.0" r="50" fill="#9a9a9a" opacity="0.6" filter="url(#db12)"/>
<circle cx="1000.0" cy="1420.0" r="40" fill="#9c9c9c" opacity="0.7" filter="url(#db10)"/>
<circle cx="1070.0" cy="1540.0" r="30" fill="#9e9e9e" opacity="0.7" filter="url(#db8)"/>
<circle cx="1210.0" cy="1230.0" r="60" fill="#808080" opacity="0.5" filter="url(#db14)"/>
<circle cx="1200.0" cy="1330.0" r="50" fill="#7e7e7e" opacity="0.5" filter="url(#db12)"/>
<circle cx="832.6" cy="1269.5" r="15" fill="#3a3a3a" opacity="0.396" filter="url(#db7)"/>
<circle cx="893.3" cy="1268.6" r="15" fill="#3a3a3a" opacity="0.396" filter="url(#db7)"/>
<circle cx="831.7" cy="1327.4" r="15" fill="#3a3a3a" opacity="0.432" filter="url(#db7)"/>
<circle cx="895.2" cy="1326.4" r="15" fill="#3a3a3a" opacity="0.396" filter="url(#db7)"/>
<circle cx="830.7" cy="1391.9" r="15" fill="#3a3a3a" opacity="0.252" filter="url(#db7)"/>
<circle cx="900.9" cy="1382.4" r="15" fill="#3a3a3a" opacity="0.13" filter="url(#db7)"/>
<circle cx="1068.0" cy="1388.0" r="15" fill="#3a3a3a" opacity="0.302" filter="url(#db7)"/>
<circle cx="834.5" cy="1447.9" r="15" fill="#3a3a3a" opacity="0.252" filter="url(#db7)"/>
<circle cx="895.2" cy="1446.0" r="15" fill="#3a3a3a" opacity="0.108" filter="url(#db7)"/>
<circle cx="1069.6" cy="1446.0" r="15" fill="#3a3a3a" opacity="0.274" filter="url(#db7)"/>
<circle cx="895.2" cy="1504.8" r="15" fill="#3a3a3a" opacity="0.144" filter="url(#db7)"/>
<circle cx="1016.5" cy="1501.0" r="15" fill="#3a3a3a" opacity="0.158" filter="url(#db7)"/>
<circle cx="1251.6" cy="1504.8" r="15" fill="#3a3a3a" opacity="0.396" filter="url(#db7)"/>
<circle cx="1132.0" cy="1505.0" r="15" fill="#3a3a3a" opacity="0.108" filter="url(#db7)"/>
<circle cx="895.2" cy="1565.5" r="15" fill="#3a3a3a" opacity="0.158" filter="url(#db7)"/>
<circle cx="1016.5" cy="1561.7" r="15" fill="#3a3a3a" opacity="0.18" filter="url(#db7)"/>
<circle cx="1132.2" cy="1563.6" r="15" fill="#3a3a3a" opacity="0.144" filter="url(#db7)"/>
<circle cx="1251.6" cy="1565.5" r="15" fill="#3a3a3a" opacity="0.396" filter="url(#db7)"/>
<circle cx="1014.7" cy="1385.2" r="25" fill="#a0a0a0" opacity="0.7" filter="url(#db6)"/>
<circle cx="1012.7" cy="1444.1" r="25" fill="#a0a0a0" opacity="0.7" filter="url(#db6)"/>
<circle cx="1013.0" cy="1415.0" r="20" fill="#a0a0a0" opacity="0.65" filter="url(#db6)"/>
<circle cx="1014.7" cy="1385.2" r="16" fill="#3a3a3a" opacity="0.78" filter="url(#db5)"/>
<circle cx="1012.7" cy="1444.1" r="16" fill="#3a3a3a" opacity="0.85" filter="url(#db5)"/>
<circle cx="1135.3" cy="1384.3" r="14" fill="#3a3a3a" opacity="0.62" filter="url(#db5)"/>
<circle cx="1132.2" cy="1442.2" r="14" fill="#3a3a3a" opacity="0.64" filter="url(#db5)"/>
<circle cx="1096.4" cy="1386.0" r="12" fill="#a4a4a4" opacity="0.6" filter="url(#db5)"/>
<circle cx="1130.5" cy="1262.9" r="14" fill="#acacac" opacity="0.9" filter="url(#db6)"/>
<circle cx="1132.4" cy="1324.5" r="15" fill="#b0b0b0" opacity="0.9" filter="url(#db6)"/>
</g>
<rect x="810.90" y="1242.40" width="105.40" height="105.40" fill="none" stroke="#34508e" stroke-width="4"/>
<rect x="865.10" y="1363.30" width="51.20" height="105.80" fill="none" stroke="#e9b43a" stroke-width="4" stroke-dasharray="4 5.3" stroke-dashoffset="0"/>
<rect x="1167.50" y="1363.30" width="51.20" height="105.80" fill="none" stroke="#cacaca" stroke-width="4" stroke-dasharray="13.8 4.9" stroke-dashoffset="0"/>
<rect x="1230.50" y="1363.30" width="51.10" height="105.80" fill="none" stroke="#4f6b2a" stroke-width="4" stroke-dasharray="18.5 14.5" stroke-dashoffset="0"/>
<rect x="865.35" y="1486.25" width="50.70" height="104.90" fill="none" stroke="#4b1a57" stroke-width="4.5" stroke-dasharray="16.7 14.8 5.5 15" stroke-dashoffset="0"/>
<rect x="984.85" y="1486.25" width="50.70" height="104.90" fill="none" stroke="#fafa46" stroke-width="4.5" stroke-dasharray="38 14.4" stroke-dashoffset="0"/>
<rect x="1046.95" y="1486.25" width="50.60" height="104.90" fill="none" stroke="#8e1515" stroke-width="4.5" stroke-dasharray="37.4 14.8 4.5 14.2" stroke-dashoffset="0"/>
<rect x="1112.15" y="1486.25" width="49.80" height="104.90" fill="none" stroke="#5c9be2" stroke-width="4.5" stroke-dasharray="37.4 13.8 4.9 13.8 4.9 14.8" stroke-dashoffset="0"/>
<rect x="1230.50" y="1486.00" width="51.10" height="105.40" fill="none" stroke="#34508e" stroke-width="4"/>
<text x="0.00" y="0.00" font-size="25" text-anchor="start" fill="#000" textLength="329.50" lengthAdjust="spacingAndGlyphs" transform="translate(895.30,1197.70) scale(1,1.04)">MSI2 knockdown (MSI2 KD)</text>
<text x="0.00" y="0.00" font-size="46" text-anchor="start" fill="#1a1a1a" textLength="61.00" lengthAdjust="spacingAndGlyphs" transform="translate(713.40,1219.30) scale(1,1.04)">(F)</text>
<rect x="198.30" y="1659.50" width="243.10" height="48.50" fill="none" stroke="#34508e" stroke-width="4"/>
<text x="0.00" y="0.00" font-size="25.5" text-anchor="start" fill="#000" textLength="187.10" lengthAdjust="spacingAndGlyphs" transform="translate(227.00,1692.90) scale(1,1.04)">Positive control</text>
<rect x="467.90" y="1659.50" width="242.60" height="48.50" fill="none" stroke="#cacaca" stroke-width="4" stroke-dasharray="13.8 4.9" stroke-dashoffset="0"/>
<text x="0.00" y="0.00" font-size="25.5" text-anchor="start" fill="#000" textLength="150.60" lengthAdjust="spacingAndGlyphs" transform="translate(514.20,1692.90) scale(1,1.04)">NBS1 (S343)</text>
<rect x="736.50" y="1659.50" width="242.90" height="48.50" fill="none" stroke="#4b1a57" stroke-width="4" stroke-dasharray="16.7 14.8 5.5 15" stroke-dashoffset="0"/>
<text x="0.00" y="0.00" font-size="25.5" text-anchor="start" fill="#000" textLength="178.40" lengthAdjust="spacingAndGlyphs" transform="translate(768.70,1692.90) scale(1,1.04)">PKMYT1 (T495)</text>
<rect x="1005.90" y="1659.50" width="243.10" height="48.50" fill="none" stroke="#8e1515" stroke-width="4" stroke-dasharray="37.4 14.8 4.5 14.2" stroke-dashoffset="0"/>
<text x="0.00" y="0.00" font-size="25.5" text-anchor="start" fill="#000" textLength="146.30" lengthAdjust="spacingAndGlyphs" transform="translate(1054.10,1692.90) scale(1,1.04)">RSK1 (S380)</text>
<rect x="198.30" y="1725.50" width="243.10" height="48.00" fill="none" stroke="#e9b43a" stroke-width="4" stroke-dasharray="4 5.3" stroke-dashoffset="0"/>
<text x="0.00" y="0.00" font-size="25.5" text-anchor="start" fill="#000" textLength="187.10" lengthAdjust="spacingAndGlyphs" transform="translate(226.40,1758.30) scale(1,1.04)">CDC25a (S293)</text>
<rect x="467.90" y="1725.50" width="242.60" height="48.00" fill="none" stroke="#4f6b2a" stroke-width="4" stroke-dasharray="18.5 14.5" stroke-dashoffset="0"/>
<text x="0.00" y="0.00" font-size="25.5" text-anchor="start" fill="#000" textLength="113.80" lengthAdjust="spacingAndGlyphs" transform="translate(530.90,1758.30) scale(1,1.04)">P53 (S15)</text>
<rect x="736.50" y="1725.50" width="242.90" height="48.00" fill="none" stroke="#fafa46" stroke-width="4" stroke-dasharray="38 14.4" stroke-dashoffset="0"/>
<text x="0.00" y="0.00" font-size="25.5" text-anchor="start" fill="#000" textLength="130.30" lengthAdjust="spacingAndGlyphs" transform="translate(792.00,1758.30) scale(1,1.04)">RB1 (S811)</text>
<rect x="1005.90" y="1725.50" width="243.10" height="48.00" fill="none" stroke="#5c9be2" stroke-width="4" stroke-dasharray="37.4 13.8 4.9 13.8 4.9 14.8" stroke-dashoffset="0"/>
<text x="0.00" y="0.00" font-size="25.5" text-anchor="start" fill="#000" textLength="146.30" lengthAdjust="spacingAndGlyphs" transform="translate(1052.50,1758.30) scale(1,1.04)">RSK2 (S386)</text>
<text x="0.00" y="0.00" font-size="46" text-anchor="start" fill="#1a1a1a" textLength="69.00" lengthAdjust="spacingAndGlyphs" transform="translate(65.20,1854.00) scale(1,1.04)">(G)</text>
<text x="0.00" y="0.00" font-size="32" font-weight="bold" stroke="#000" stroke-width="0.4" text-anchor="start" fill="#000" textLength="202.30" lengthAdjust="spacingAndGlyphs" transform="translate(306.70,1868.80) scale(1,1.04)">HBL-1 γH2AX</text>
<line x1="159.10" y1="1908.60" x2="159.10" y2="2242.40" stroke="#000" stroke-width="3.2" stroke-linecap="butt"/>
<line x1="157.50" y1="2240.80" x2="657.20" y2="2240.80" stroke="#000" stroke-width="3.2" stroke-linecap="butt"/>
<line x1="144.90" y1="2240.80" x2="159.10" y2="2240.80" stroke="#000" stroke-width="3.2" stroke-linecap="butt"/>
<text x="0.00" y="0.00" font-size="24" font-weight="bold" stroke="#000" stroke-width="0.4" text-anchor="end" fill="#000" transform="translate(139.00,2249.10) scale(1,1.04)">0</text>
<line x1="144.90" y1="2158.05" x2="159.10" y2="2158.05" stroke="#000" stroke-width="3.2" stroke-linecap="butt"/>
<text x="0.00" y="0.00" font-size="24" font-weight="bold" stroke="#000" stroke-width="0.4" text-anchor="end" fill="#000" transform="translate(139.00,2166.35) scale(1,1.04)">5</text>
<line x1="144.90" y1="2075.30" x2="159.10" y2="2075.30" stroke="#000" stroke-width="3.2" stroke-linecap="butt"/>
<text x="0.00" y="0.00" font-size="24" font-weight="bold" stroke="#000" stroke-width="0.4" text-anchor="end" fill="#000" transform="translate(139.00,2083.60) scale(1,1.04)">10</text>
<line x1="144.90" y1="1992.55" x2="159.10" y2="1992.55" stroke="#000" stroke-width="3.2" stroke-linecap="butt"/>
<text x="0.00" y="0.00" font-size="24" font-weight="bold" stroke="#000" stroke-width="0.4" text-anchor="end" fill="#000" transform="translate(139.00,2000.85) scale(1,1.04)">15</text>
<line x1="144.90" y1="1909.80" x2="159.10" y2="1909.80" stroke="#000" stroke-width="3.2" stroke-linecap="butt"/>
<text x="0.00" y="0.00" font-size="24" font-weight="bold" stroke="#000" stroke-width="0.4" text-anchor="end" fill="#000" transform="translate(139.00,1918.10) scale(1,1.04)">20</text>
<line x1="220.40" y1="2240.80" x2="220.40" y2="2255.40" stroke="#000" stroke-width="3.2" stroke-linecap="butt"/>
<text x="0.00" y="0.00" font-size="24" font-weight="bold" stroke="#000" stroke-width="0.4" text-anchor="middle" fill="#000" transform="translate(220.40,2283.60) scale(1,1.04)">0</text>
<line x1="313.90" y1="2240.80" x2="313.90" y2="2255.40" stroke="#000" stroke-width="3.2" stroke-linecap="butt"/>
<text x="0.00" y="0.00" font-size="24" font-weight="bold" stroke="#000" stroke-width="0.4" text-anchor="middle" fill="#000" transform="translate(313.90,2283.60) scale(1,1.04)">30</text>
<line x1="407.40" y1="2240.80" x2="407.40" y2="2255.40" stroke="#000" stroke-width="3.2" stroke-linecap="butt"/>
<text x="0.00" y="0.00" font-size="24" font-weight="bold" stroke="#000" stroke-width="0.4" text-anchor="middle" fill="#000" transform="translate(407.40,2283.60) scale(1,1.04)">60</text>
<line x1="500.90" y1="2240.80" x2="500.90" y2="2255.40" stroke="#000" stroke-width="3.2" stroke-linecap="butt"/>
<text x="0.00" y="0.00" font-size="24" font-weight="bold" stroke="#000" stroke-width="0.4" text-anchor="middle" fill="#000" transform="translate(500.90,2283.60) scale(1,1.04)">120</text>
<line x1="594.40" y1="2240.80" x2="594.40" y2="2255.40" stroke="#000" stroke-width="3.2" stroke-linecap="butt"/>
<text x="0.00" y="0.00" font-size="24" font-weight="bold" stroke="#000" stroke-width="0.4" text-anchor="middle" fill="#000" transform="translate(594.40,2283.60) scale(1,1.04)">300</text>
<text x="0.00" y="0.00" font-size="26" font-weight="bold" stroke="#000" stroke-width="0.4" text-anchor="start" fill="#000" textLength="336.10" lengthAdjust="spacingAndGlyphs" transform="translate(239.30,2323.60) scale(1,1.04)">Time after irradiation [min]</text>
<text x="0.00" y="0.00" font-size="26.5" font-weight="bold" stroke="#000" stroke-width="0.4" text-anchor="middle" fill="#000" textLength="317.70" lengthAdjust="spacingAndGlyphs" transform="translate(96.30,2076.90) rotate(-90) scale(1,1.04)">Percentage of γH2AX [%]</text>
<line x1="195.90" y1="1956.10" x2="244.90" y2="1956.10" stroke="#000" stroke-width="5.2" stroke-linecap="round"/>
<text x="0.00" y="0.00" font-size="26" text-anchor="middle" fill="#000" textLength="26.60" lengthAdjust="spacingAndGlyphs" transform="translate(221.40,1938.60) scale(1,1.04)">ns</text>
<line x1="289.40" y1="1956.10" x2="338.40" y2="1956.10" stroke="#000" stroke-width="5.2" stroke-linecap="round"/>
<path d="M305.31 1932.60L306.13 1923.00L301.27 1923.00L302.08 1932.60ZM304.51 1931.20L296.60 1925.69L294.17 1929.91L302.89 1934.00ZM302.89 1931.20L294.17 1935.29L296.60 1939.51L304.51 1934.00ZM302.08 1932.60L301.27 1942.20L306.13 1942.20L305.31 1932.60ZM302.89 1934.00L310.80 1939.51L313.23 1935.29L304.51 1931.20ZM304.51 1934.00L313.23 1929.91L310.80 1925.69L302.89 1931.20Z" fill="#000"/>
<circle cx="303.70" cy="1932.60" r="2.85" fill="#000"/>
<path d="M325.01 1932.60L325.83 1923.00L320.97 1923.00L321.78 1932.60ZM324.21 1931.20L316.30 1925.69L313.87 1929.91L322.59 1934.00ZM322.59 1931.20L313.87 1935.29L316.30 1939.51L324.21 1934.00ZM321.78 1932.60L320.97 1942.20L325.83 1942.20L325.01 1932.60ZM322.59 1934.00L330.50 1939.51L332.93 1935.29L324.21 1931.20ZM324.21 1934.00L332.93 1929.91L330.50 1925.69L322.59 1931.20Z" fill="#000"/>
<circle cx="323.40" cy="1932.60" r="2.85" fill="#000"/>
<line x1="382.90" y1="1956.10" x2="431.90" y2="1956.10" stroke="#000" stroke-width="5.2" stroke-linecap="round"/>
<text x="0.00" y="0.00" font-size="26" text-anchor="middle" fill="#000" textLength="26.60" lengthAdjust="spacingAndGlyphs" transform="translate(408.40,1938.60) scale(1,1.04)">ns</text>
<line x1="476.40" y1="1956.10" x2="525.40" y2="1956.10" stroke="#000" stroke-width="5.2" stroke-linecap="round"/>
<path d="M503.01 1932.60L503.83 1923.00L498.97 1923.00L499.78 1932.60ZM502.21 1931.20L494.30 1925.69L491.87 1929.91L500.59 1934.00ZM500.59 1931.20L491.87 1935.29L494.30 1939.51L502.21 1934.00ZM499.78 1932.60L498.97 1942.20L503.83 1942.20L503.01 1932.60ZM500.59 1934.00L508.50 1939.51L510.93 1935.29L502.21 1931.20ZM502.21 1934.00L510.93 1929.91L508.50 1925.69L500.59 1931.20Z" fill="#000"/>
<circle cx="501.40" cy="1932.60" r="2.85" fill="#000"/>
<line x1="569.90" y1="1956.10" x2="618.90" y2="1956.10" stroke="#000" stroke-width="5.2" stroke-linecap="round"/>
<text x="0.00" y="0.00" font-size="26" text-anchor="middle" fill="#000" textLength="26.60" lengthAdjust="spacingAndGlyphs" transform="translate(595.40,1938.60) scale(1,1.04)">ns</text>
<line x1="220.40" y1="2164.50" x2="220.40" y2="2177.00" stroke="#1414f0" stroke-width="2.4" stroke-linecap="butt"/>
<line x1="213.40" y1="2164.50" x2="227.40" y2="2164.50" stroke="#1414f0" stroke-width="2.4" stroke-linecap="butt"/>
<line x1="213.40" y1="2177.00" x2="227.40" y2="2177.00" stroke="#1414f0" stroke-width="2.4" stroke-linecap="butt"/>
<line x1="313.90" y1="2032.70" x2="313.90" y2="2051.30" stroke="#1414f0" stroke-width="2.4" stroke-linecap="butt"/>
<line x1="306.90" y1="2032.70" x2="320.90" y2="2032.70" stroke="#1414f0" stroke-width="2.4" stroke-linecap="butt"/>
<line x1="306.90" y1="2051.30" x2="320.90" y2="2051.30" stroke="#1414f0" stroke-width="2.4" stroke-linecap="butt"/>
<line x1="407.40" y1="2050.40" x2="407.40" y2="2101.90" stroke="#1414f0" stroke-width="2.4" stroke-linecap="butt"/>
<line x1="400.40" y1="2050.40" x2="414.40" y2="2050.40" stroke="#1414f0" stroke-width="2.4" stroke-linecap="butt"/>
<line x1="400.40" y1="2101.90" x2="414.40" y2="2101.90" stroke="#1414f0" stroke-width="2.4" stroke-linecap="butt"/>
<line x1="500.90" y1="2062.40" x2="500.90" y2="2090.80" stroke="#1414f0" stroke-width="2.4" stroke-linecap="butt"/>
<line x1="493.90" y1="2062.40" x2="507.90" y2="2062.40" stroke="#1414f0" stroke-width="2.4" stroke-linecap="butt"/>
<line x1="493.90" y1="2090.80" x2="507.90" y2="2090.80" stroke="#1414f0" stroke-width="2.4" stroke-linecap="butt"/>
<line x1="594.40" y1="2108.00" x2="594.40" y2="2128.40" stroke="#1414f0" stroke-width="2.4" stroke-linecap="butt"/>
<line x1="587.40" y1="2108.00" x2="601.40" y2="2108.00" stroke="#1414f0" stroke-width="2.4" stroke-linecap="butt"/>
<line x1="587.40" y1="2128.40" x2="601.40" y2="2128.40" stroke="#1414f0" stroke-width="2.4" stroke-linecap="butt"/>
<polyline points="220.40,2169.64 313.90,2040.55 407.40,2076.13 500.90,2076.13 594.40,2116.68" fill="none" stroke="#1414f0" stroke-width="3.4" stroke-linejoin="round"/>
<circle cx="220.40" cy="2169.64" r="6.5" fill="#1414f0"/>
<circle cx="313.90" cy="2040.55" r="6.5" fill="#1414f0"/>
<circle cx="407.40" cy="2076.13" r="6.5" fill="#1414f0"/>
<circle cx="500.90" cy="2076.13" r="6.5" fill="#1414f0"/>
<circle cx="594.40" cy="2116.68" r="6.5" fill="#1414f0"/>
<line x1="220.40" y1="2151.90" x2="220.40" y2="2166.70" stroke="#d41414" stroke-width="2.4" stroke-linecap="butt"/>
<line x1="213.40" y1="2151.90" x2="227.40" y2="2151.90" stroke="#d41414" stroke-width="2.4" stroke-linecap="butt"/>
<line x1="213.40" y1="2166.70" x2="227.40" y2="2166.70" stroke="#d41414" stroke-width="2.4" stroke-linecap="butt"/>
<line x1="313.90" y1="1972.10" x2="313.90" y2="1992.40" stroke="#d41414" stroke-width="2.4" stroke-linecap="butt"/>
<line x1="306.90" y1="1972.10" x2="320.90" y2="1972.10" stroke="#d41414" stroke-width="2.4" stroke-linecap="butt"/>
<line x1="306.90" y1="1992.40" x2="320.90" y2="1992.40" stroke="#d41414" stroke-width="2.4" stroke-linecap="butt"/>
<line x1="407.40" y1="1986.80" x2="407.40" y2="2051.30" stroke="#d41414" stroke-width="2.4" stroke-linecap="butt"/>
<line x1="400.40" y1="1986.80" x2="414.40" y2="1986.80" stroke="#d41414" stroke-width="2.4" stroke-linecap="butt"/>
<line x1="400.40" y1="2051.30" x2="414.40" y2="2051.30" stroke="#d41414" stroke-width="2.4" stroke-linecap="butt"/>
<line x1="500.90" y1="1986.30" x2="500.90" y2="2032.50" stroke="#d41414" stroke-width="2.4" stroke-linecap="butt"/>
<line x1="493.90" y1="1986.30" x2="507.90" y2="1986.30" stroke="#d41414" stroke-width="2.4" stroke-linecap="butt"/>
<line x1="493.90" y1="2032.50" x2="507.90" y2="2032.50" stroke="#d41414" stroke-width="2.4" stroke-linecap="butt"/>
<line x1="594.40" y1="2104.30" x2="594.40" y2="2115.40" stroke="#d41414" stroke-width="2.4" stroke-linecap="butt"/>
<line x1="587.40" y1="2104.30" x2="601.40" y2="2104.30" stroke="#d41414" stroke-width="2.4" stroke-linecap="butt"/>
<line x1="587.40" y1="2115.40" x2="601.40" y2="2115.40" stroke="#d41414" stroke-width="2.4" stroke-linecap="butt"/>
<polyline points="220.40,2160.53 313.90,1982.62 407.40,2019.03 500.90,2009.10 594.40,2109.23" fill="none" stroke="#d41414" stroke-width="3.4" stroke-linejoin="round"/>
<rect x="213.80" y="2153.93" width="13.2" height="13.2" fill="#d41414"/>
<rect x="307.30" y="1976.02" width="13.2" height="13.2" fill="#d41414"/>
<rect x="400.80" y="2012.43" width="13.2" height="13.2" fill="#d41414"/>
<rect x="494.30" y="2002.50" width="13.2" height="13.2" fill="#d41414"/>
<rect x="587.80" y="2102.63" width="13.2" height="13.2" fill="#d41414"/>
<line x1="358.20" y1="2172.20" x2="395.80" y2="2172.20" stroke="#1414f0" stroke-width="3.4" stroke-linecap="butt"/>
<circle cx="376.80" cy="2172.2" r="6.4" fill="#1414f0"/>
<line x1="358.20" y1="2218.80" x2="395.80" y2="2218.80" stroke="#d41414" stroke-width="3.4" stroke-linecap="butt"/>
<rect x="370.20" y="2212.20" width="13.60" height="13.40" fill="#d41414" stroke="none" stroke-width="0"/>
<text x="0.00" y="0.00" font-size="27" text-anchor="start" fill="#000" textLength="35.30" lengthAdjust="spacingAndGlyphs" transform="translate(414.00,2181.50) scale(1,1.04)">ctrl</text>
<text x="0.00" y="0.00" font-size="27" text-anchor="start" fill="#000" textLength="108.20" lengthAdjust="spacingAndGlyphs" transform="translate(414.00,2227.80) scale(1,1.04)">MSI2 KD</text>
<text x="0.00" y="0.00" font-size="46" text-anchor="start" fill="#1a1a1a" textLength="65.70" lengthAdjust="spacingAndGlyphs" transform="translate(723.60,1854.00) scale(1,1.04)">(H)</text>
<text x="0.00" y="0.00" font-size="32" font-weight="bold" stroke="#000" stroke-width="0.4" text-anchor="start" fill="#000" textLength="150.20" lengthAdjust="spacingAndGlyphs" transform="translate(999.20,1868.80) scale(1,1.04)">HT γH2AX</text>
<line x1="825.40" y1="1908.60" x2="825.40" y2="2242.40" stroke="#000" stroke-width="3.2" stroke-linecap="butt"/>
<line x1="823.80" y1="2240.80" x2="1323.50" y2="2240.80" stroke="#000" stroke-width="3.2" stroke-linecap="butt"/>
<line x1="811.20" y1="2240.80" x2="825.40" y2="2240.80" stroke="#000" stroke-width="3.2" stroke-linecap="butt"/>
<text x="0.00" y="0.00" font-size="24" font-weight="bold" stroke="#000" stroke-width="0.4" text-anchor="end" fill="#000" transform="translate(805.30,2249.10) scale(1,1.04)">0</text>
<line x1="811.20" y1="2158.05" x2="825.40" y2="2158.05" stroke="#000" stroke-width="3.2" stroke-linecap="butt"/>
<text x="0.00" y="0.00" font-size="24" font-weight="bold" stroke="#000" stroke-width="0.4" text-anchor="end" fill="#000" transform="translate(805.30,2166.35) scale(1,1.04)">5</text>
<line x1="811.20" y1="2075.30" x2="825.40" y2="2075.30" stroke="#000" stroke-width="3.2" stroke-linecap="butt"/>
<text x="0.00" y="0.00" font-size="24" font-weight="bold" stroke="#000" stroke-width="0.4" text-anchor="end" fill="#000" transform="translate(805.30,2083.60) scale(1,1.04)">10</text>
<line x1="811.20" y1="1992.55" x2="825.40" y2="1992.55" stroke="#000" stroke-width="3.2" stroke-linecap="butt"/>
<text x="0.00" y="0.00" font-size="24" font-weight="bold" stroke="#000" stroke-width="0.4" text-anchor="end" fill="#000" transform="translate(805.30,2000.85) scale(1,1.04)">15</text>
<line x1="811.20" y1="1909.80" x2="825.40" y2="1909.80" stroke="#000" stroke-width="3.2" stroke-linecap="butt"/>
<text x="0.00" y="0.00" font-size="24" font-weight="bold" stroke="#000" stroke-width="0.4" text-anchor="end" fill="#000" transform="translate(805.30,1918.10) scale(1,1.04)">20</text>
<line x1="886.70" y1="2240.80" x2="886.70" y2="2255.40" stroke="#000" stroke-width="3.2" stroke-linecap="butt"/>
<text x="0.00" y="0.00" font-size="24" font-weight="bold" stroke="#000" stroke-width="0.4" text-anchor="middle" fill="#000" transform="translate(886.70,2283.60) scale(1,1.04)">0</text>
<line x1="980.20" y1="2240.80" x2="980.20" y2="2255.40" stroke="#000" stroke-width="3.2" stroke-linecap="butt"/>
<text x="0.00" y="0.00" font-size="24" font-weight="bold" stroke="#000" stroke-width="0.4" text-anchor="middle" fill="#000" transform="translate(980.20,2283.60) scale(1,1.04)">30</text>
<line x1="1073.70" y1="2240.80" x2="1073.70" y2="2255.40" stroke="#000" stroke-width="3.2" stroke-linecap="butt"/>
<text x="0.00" y="0.00" font-size="24" font-weight="bold" stroke="#000" stroke-width="0.4" text-anchor="middle" fill="#000" transform="translate(1073.70,2283.60) scale(1,1.04)">60</text>
<line x1="1167.20" y1="2240.80" x2="1167.20" y2="2255.40" stroke="#000" stroke-width="3.2" stroke-linecap="butt"/>
<text x="0.00" y="0.00" font-size="24" font-weight="bold" stroke="#000" stroke-width="0.4" text-anchor="middle" fill="#000" transform="translate(1167.20,2283.60) scale(1,1.04)">120</text>
<line x1="1260.70" y1="2240.80" x2="1260.70" y2="2255.40" stroke="#000" stroke-width="3.2" stroke-linecap="butt"/>
<text x="0.00" y="0.00" font-size="24" font-weight="bold" stroke="#000" stroke-width="0.4" text-anchor="middle" fill="#000" transform="translate(1260.70,2283.60) scale(1,1.04)">300</text>
<text x="0.00" y="0.00" font-size="26" font-weight="bold" stroke="#000" stroke-width="0.4" text-anchor="start" fill="#000" textLength="336.10" lengthAdjust="spacingAndGlyphs" transform="translate(905.90,2320.60) scale(1,1.04)">Time after irradiation [min]</text>
<text x="0.00" y="0.00" font-size="26.5" font-weight="bold" stroke="#000" stroke-width="0.4" text-anchor="middle" fill="#000" textLength="317.70" lengthAdjust="spacingAndGlyphs" transform="translate(762.60,2076.90) rotate(-90) scale(1,1.04)">Percentage of γH2AX [%]</text>
<line x1="862.20" y1="1956.10" x2="911.20" y2="1956.10" stroke="#000" stroke-width="5.2" stroke-linecap="round"/>
<text x="0.00" y="0.00" font-size="26" text-anchor="middle" fill="#000" textLength="26.60" lengthAdjust="spacingAndGlyphs" transform="translate(887.70,1938.60) scale(1,1.04)">ns</text>
<line x1="955.70" y1="1956.10" x2="1004.70" y2="1956.10" stroke="#000" stroke-width="5.2" stroke-linecap="round"/>
<path d="M982.31 1932.60L983.13 1923.00L978.27 1923.00L979.08 1932.60ZM981.51 1931.20L973.60 1925.69L971.17 1929.91L979.89 1934.00ZM979.89 1931.20L971.17 1935.29L973.60 1939.51L981.51 1934.00ZM979.08 1932.60L978.27 1942.20L983.13 1942.20L982.31 1932.60ZM979.89 1934.00L987.80 1939.51L990.23 1935.29L981.51 1931.20ZM981.51 1934.00L990.23 1929.91L987.80 1925.69L979.89 1931.20Z" fill="#000"/>
<circle cx="980.70" cy="1932.60" r="2.85" fill="#000"/>
<line x1="1049.20" y1="1956.10" x2="1098.20" y2="1956.10" stroke="#000" stroke-width="5.2" stroke-linecap="round"/>
<text x="0.00" y="0.00" font-size="26" text-anchor="middle" fill="#000" textLength="26.60" lengthAdjust="spacingAndGlyphs" transform="translate(1074.70,1938.60) scale(1,1.04)">ns</text>
<line x1="1142.70" y1="1956.10" x2="1191.70" y2="1956.10" stroke="#000" stroke-width="5.2" stroke-linecap="round"/>
<text x="0.00" y="0.00" font-size="26" text-anchor="middle" fill="#000" textLength="26.60" lengthAdjust="spacingAndGlyphs" transform="translate(1168.20,1938.60) scale(1,1.04)">ns</text>
<line x1="1236.20" y1="1956.10" x2="1285.20" y2="1956.10" stroke="#000" stroke-width="5.2" stroke-linecap="round"/>
<text x="0.00" y="0.00" font-size="26" text-anchor="middle" fill="#000" textLength="26.60" lengthAdjust="spacingAndGlyphs" transform="translate(1261.70,1938.60) scale(1,1.04)">ns</text>
<line x1="886.70" y1="2113.00" x2="886.70" y2="2129.80" stroke="#1414f0" stroke-width="2.4" stroke-linecap="butt"/>
<line x1="879.70" y1="2113.00" x2="893.70" y2="2113.00" stroke="#1414f0" stroke-width="2.4" stroke-linecap="butt"/>
<line x1="879.70" y1="2129.80" x2="893.70" y2="2129.80" stroke="#1414f0" stroke-width="2.4" stroke-linecap="butt"/>
<line x1="980.20" y1="2053.70" x2="980.20" y2="2081.70" stroke="#1414f0" stroke-width="2.4" stroke-linecap="butt"/>
<line x1="973.20" y1="2053.70" x2="987.20" y2="2053.70" stroke="#1414f0" stroke-width="2.4" stroke-linecap="butt"/>
<line x1="973.20" y1="2081.70" x2="987.20" y2="2081.70" stroke="#1414f0" stroke-width="2.4" stroke-linecap="butt"/>
<line x1="1073.70" y1="2026.30" x2="1073.70" y2="2050.40" stroke="#1414f0" stroke-width="2.4" stroke-linecap="butt"/>
<line x1="1066.70" y1="2026.30" x2="1080.70" y2="2026.30" stroke="#1414f0" stroke-width="2.4" stroke-linecap="butt"/>
<line x1="1066.70" y1="2050.40" x2="1080.70" y2="2050.40" stroke="#1414f0" stroke-width="2.4" stroke-linecap="butt"/>
<line x1="1167.20" y1="2033.00" x2="1167.20" y2="2061.40" stroke="#1414f0" stroke-width="2.4" stroke-linecap="butt"/>
<line x1="1160.20" y1="2033.00" x2="1174.20" y2="2033.00" stroke="#1414f0" stroke-width="2.4" stroke-linecap="butt"/>
<line x1="1160.20" y1="2061.40" x2="1174.20" y2="2061.40" stroke="#1414f0" stroke-width="2.4" stroke-linecap="butt"/>
<line x1="1260.70" y1="2098.50" x2="1260.70" y2="2131.20" stroke="#1414f0" stroke-width="2.4" stroke-linecap="butt"/>
<line x1="1253.70" y1="2098.50" x2="1267.70" y2="2098.50" stroke="#1414f0" stroke-width="2.4" stroke-linecap="butt"/>
<line x1="1253.70" y1="2131.20" x2="1267.70" y2="2131.20" stroke="#1414f0" stroke-width="2.4" stroke-linecap="butt"/>
<polyline points="886.70,2121.64 980.20,2067.85 1073.70,2038.89 1167.20,2042.20 1260.70,2115.02" fill="none" stroke="#1414f0" stroke-width="3.4" stroke-linejoin="round"/>
<circle cx="886.70" cy="2121.64" r="6.5" fill="#1414f0"/>
<circle cx="980.20" cy="2067.85" r="6.5" fill="#1414f0"/>
<circle cx="1073.70" cy="2038.89" r="6.5" fill="#1414f0"/>
<circle cx="1167.20" cy="2042.20" r="6.5" fill="#1414f0"/>
<circle cx="1260.70" cy="2115.02" r="6.5" fill="#1414f0"/>
<line x1="886.70" y1="2098.50" x2="886.70" y2="2131.20" stroke="#d41414" stroke-width="2.4" stroke-linecap="butt"/>
<line x1="879.70" y1="2098.50" x2="893.70" y2="2098.50" stroke="#d41414" stroke-width="2.4" stroke-linecap="butt"/>
<line x1="879.70" y1="2131.20" x2="893.70" y2="2131.20" stroke="#d41414" stroke-width="2.4" stroke-linecap="butt"/>
<line x1="980.20" y1="1985.40" x2="980.20" y2="2020.00" stroke="#d41414" stroke-width="2.4" stroke-linecap="butt"/>
<line x1="973.20" y1="1985.40" x2="987.20" y2="1985.40" stroke="#d41414" stroke-width="2.4" stroke-linecap="butt"/>
<line x1="973.20" y1="2020.00" x2="987.20" y2="2020.00" stroke="#d41414" stroke-width="2.4" stroke-linecap="butt"/>
<line x1="1073.70" y1="1976.70" x2="1073.70" y2="2043.10" stroke="#d41414" stroke-width="2.4" stroke-linecap="butt"/>
<line x1="1066.70" y1="1976.70" x2="1080.70" y2="1976.70" stroke="#d41414" stroke-width="2.4" stroke-linecap="butt"/>
<line x1="1066.70" y1="2043.10" x2="1080.70" y2="2043.10" stroke="#d41414" stroke-width="2.4" stroke-linecap="butt"/>
<line x1="1167.20" y1="2021.50" x2="1167.20" y2="2030.00" stroke="#d41414" stroke-width="2.4" stroke-linecap="butt"/>
<line x1="1160.20" y1="2021.50" x2="1174.20" y2="2021.50" stroke="#d41414" stroke-width="2.4" stroke-linecap="butt"/>
<line x1="1160.20" y1="2030.00" x2="1174.20" y2="2030.00" stroke="#d41414" stroke-width="2.4" stroke-linecap="butt"/>
<line x1="1260.70" y1="2110.50" x2="1260.70" y2="2139.40" stroke="#d41414" stroke-width="2.4" stroke-linecap="butt"/>
<line x1="1253.70" y1="2110.50" x2="1267.70" y2="2110.50" stroke="#d41414" stroke-width="2.4" stroke-linecap="butt"/>
<line x1="1253.70" y1="2139.40" x2="1267.70" y2="2139.40" stroke="#d41414" stroke-width="2.4" stroke-linecap="butt"/>
<polyline points="886.70,2115.02 980.20,2002.48 1073.70,2010.76 1167.20,2025.65 1260.70,2124.12" fill="none" stroke="#d41414" stroke-width="3.4" stroke-linejoin="round"/>
<rect x="880.10" y="2108.42" width="13.2" height="13.2" fill="#d41414"/>
<rect x="973.60" y="1995.88" width="13.2" height="13.2" fill="#d41414"/>
<rect x="1067.10" y="2004.16" width="13.2" height="13.2" fill="#d41414"/>
<rect x="1160.60" y="2019.05" width="13.2" height="13.2" fill="#d41414"/>
<rect x="1254.10" y="2117.52" width="13.2" height="13.2" fill="#d41414"/>
<line x1="1024.50" y1="2172.20" x2="1062.10" y2="2172.20" stroke="#1414f0" stroke-width="3.4" stroke-linecap="butt"/>
<circle cx="1043.10" cy="2172.2" r="6.4" fill="#1414f0"/>
<line x1="1024.50" y1="2218.80" x2="1062.10" y2="2218.80" stroke="#d41414" stroke-width="3.4" stroke-linecap="butt"/>
<rect x="1036.50" y="2212.20" width="13.60" height="13.40" fill="#d41414" stroke="none" stroke-width="0"/>
<text x="0.00" y="0.00" font-size="27" text-anchor="start" fill="#000" textLength="35.30" lengthAdjust="spacingAndGlyphs" transform="translate(1080.30,2181.50) scale(1,1.04)">ctrl</text>
<text x="0.00" y="0.00" font-size="27" text-anchor="start" fill="#000" textLength="108.20" lengthAdjust="spacingAndGlyphs" transform="translate(1080.30,2227.80) scale(1,1.04)">MSI2 KD</text>
</svg></body></html>
